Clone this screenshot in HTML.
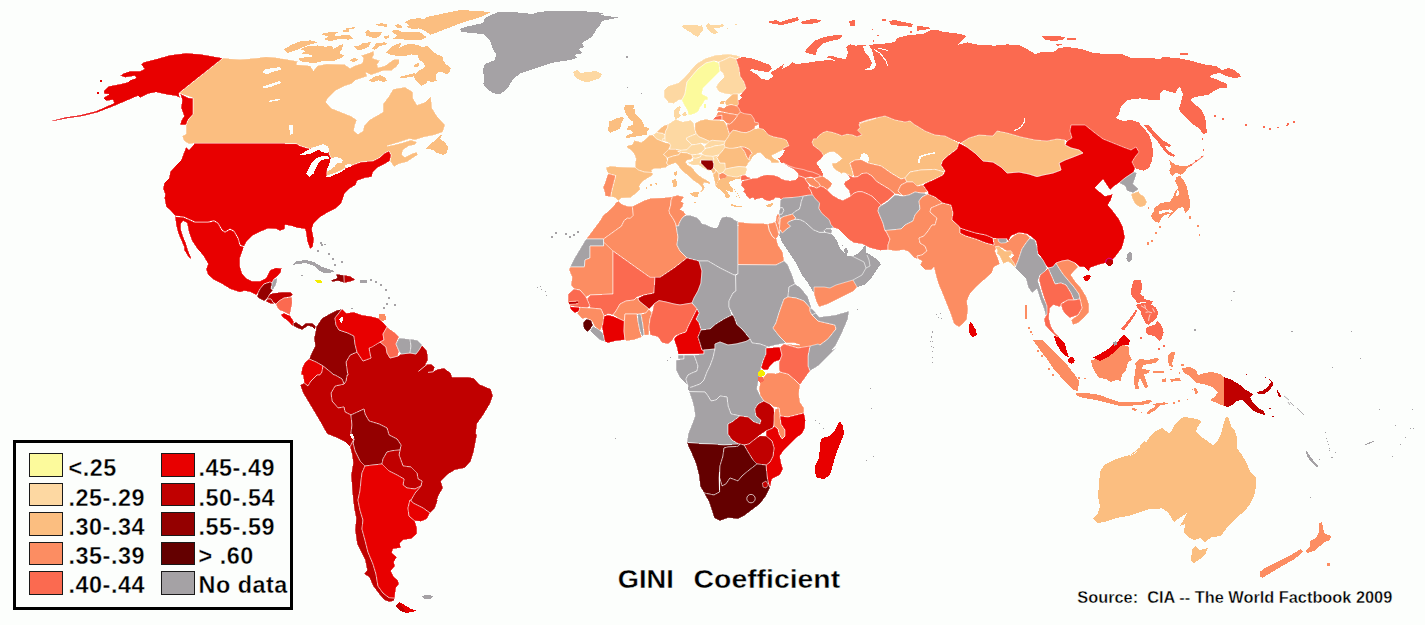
<!DOCTYPE html>
<html><head><meta charset="utf-8"><title>GINI Coefficient</title>
<style>
html,body{margin:0;padding:0;background:#FCFEFC}
body{width:1425px;height:625px;overflow:hidden;font-family:"Liberation Sans",sans-serif}
svg{display:block}
text{font-family:"Liberation Sans",sans-serif;font-weight:bold;fill:#000;stroke:#FCFEFC;stroke-width:.35px}
.lg{font-size:23.4px;letter-spacing:.5px}
.ti{font-size:25px}
.src{font-size:16px}
</style></head><body>
<svg width="1425" height="625" viewBox="0 0 1425 625" shape-rendering="crispEdges">
<rect width="1425" height="625" fill="#FCFEFC"/>
<g stroke-linejoin="round">
<polygon points="223,58 240,59.4 256,58 266,56.6 285,58.4 280,58.09 287.58,59.35 297.7,61.25 296.43,64.41 310.34,65.68 313.5,70.73 317.29,65.68 326.77,63.78 344.47,64.41 350.16,68.2 354.58,65.68 362.16,63.15 363.43,58.09 360.9,55.56 373.54,51.14 374.17,54.3 372.28,58.09 379.86,60.62 377.33,64.41 377.96,67.57 384.92,65.68 393.77,59.35 399.45,59.35 399.45,63.15 396.29,66.94 391.24,70.73 383.65,70.73 371.01,75.16 365.96,72.63 367.22,76.42 355.84,80.21 351.42,84 345,86 335,91 328,98 326,102 331,108 341,112 351,116 357,120 355,125 354,131 358,134 363,131 364,125 365,125 369,120 383,112 383,104 389,96 393,89 405,87 413,92 413,98 417,105 425,102 431,96 432,108 437,116 445,125 445,125 443,132 435,135 425,137 415,140 409,139 397,143 387,146 393,145 401,143 411,140 417,142 415,145 409,146 403,150 402,155 405,157 413,153 417,152 418,155 413,158 407,162 399,164 394,167 392,164 390,161 391,155 389,151 385,153 379,158 373,161 361,162 353.53,164.77 349.5,166.08 345.47,168.09 341.43,170.51 333.37,174.34 326.82,175.85 326.52,173.33 327.33,169.81 329.34,166.28 333.37,163.26 335.39,160.23 331.36,158.72 329.34,154.69 328.33,150.16 323.29,146.12 315.23,147.64 309.19,148.64 300.12,145.92 296.09,143.6 285,143.6 194,143.4 189,144 184,141 182,136 186,134 186,125 186,125 188,120 193,114 193,98 181,94 179,93" fill="#FBBE80" stroke="#fff" stroke-opacity=".75" stroke-width=".7"/>
<polygon points="262,72 266,69 280,67 281,69.6 274,71.6 266,74.4" fill="#FCFEFC"/>
<polygon points="262,87 270,84 280,81 281,83 272,86.4 265,88.4" fill="#FCFEFC"/>
<polygon points="268,101 280,98.6 280.4,100 269,102" fill="#FCFEFC"/>
<polygon points="289,125 293,125 292.6,134 290,135" fill="#FCFEFC"/>
<polygon points="283.79,49.24 292.64,44.19 301.49,41.03 310.34,40.39 317.92,42.29 309.07,44.82 302.75,47.35 295.17,50.51 287.58,53.03" fill="#FBBE80"/>
<polygon points="300.23,49.24 307.81,46.08 317.92,45.45 325.51,46.71 331.83,45.45 333.09,49.24 339.41,45.45 343.2,44.19 341.94,49.24 339.41,53.03 344.47,55.56 340.68,58.09 334.35,60.62 324.24,60.62 316.66,62.51 309.07,62.51 300.23,61.25 298.33,58.09 311.6,56.83 312.87,54.93 301.49,53.67 305.28,51.14" fill="#FBBE80"/>
<polygon points="320.45,34.07 329.3,32.18 338.78,32.18 334.35,34.71 336.88,36.6 343.2,34.71 348.89,34.71 353.32,38.5 348.26,39.76 340.68,38.5 334.35,40.39 329.3,41.03 324.24,39.13 328.03,36.6" fill="#FBBE80"/>
<polygon points="345.73,28.39 354.58,27.12 354.58,28.39 348.89,29.65 345.73,29.65" fill="#FBBE80"/>
<polygon points="343.2,30.28 349.52,30.28 348.89,31.55 343.2,31.55" fill="#FBBE80"/>
<polygon points="365.32,32.18 367.85,29.65 371.01,32.18 377.33,31.55 382.39,32.18 379.86,35.97 374.8,38.5 369.75,36.6 365.96,35.34" fill="#FBBE80"/>
<polygon points="375.44,24.59 381.13,23.33 387.45,23.96 387.45,27.12 383.65,26.49 378.6,25.86" fill="#FBBE80"/>
<polygon points="383.65,36.6 388.71,35.34 389.34,37.87 384.92,38.88" fill="#FBBE80"/>
<polygon points="353.32,46.08 358.37,46.08 363.43,42.92 371.01,42.29 368.48,46.71 363.43,49.24 358.37,50.51" fill="#FBBE80"/>
<polygon points="372.28,48.61 376.07,43.55 384.92,42.29 387.45,44.19 379.86,46.08 374.8,49.87" fill="#FBBE80"/>
<polygon points="349.52,59.99 354.58,58.09 358.37,59.35 353.32,62.51" fill="#FBBE80"/>
<polygon points="391.24,30.91 396.29,29.65 401.35,31.55 411.46,32.18 419.05,31.55 426.63,37.23 421.58,39.76 406.41,39.76 393.13,38.5 397.56,35.34 393.77,33.44" fill="#FBBE80"/>
<polygon points="394.4,25.23 398.19,23.96 401.35,25.86 402.61,28.39 397.56,28.39" fill="#FBBE80"/>
<polygon points="404.51,22.06 411.46,18.9 419.05,18.27 424.1,18.9 426.63,17.01 439.27,14.48 449.38,12.58 460,10.69 467.08,10.06 467.08,13.85 460,22.7 450.65,25.86 439.27,30.28 430.42,34.71 424.1,30.28 419.05,28.39 412.73,29.02 406.41,27.12 408.93,25.23" fill="#FBBE80"/>
<polygon points="386.18,52.4 389.97,47.98 396.29,44.19 401.35,42.92 398.19,49.24 401.35,46.71 407.67,44.19 413.99,44.19 419.05,45.45 422.84,47.35 426.63,45.45 431.69,50.51 436.74,54.3 442.43,56.19 443.06,60.62 445.59,63.78 450.65,68.2 450.02,72 446.86,74.52 441.8,72 438.01,72 435.48,75.79 436.74,80.84 431.69,82.11 427.9,80.84 425.37,84 421.58,85.9 419.05,84 415.25,79.58 413.99,76.42 406.41,77.68 399.45,78.32 401.35,76.42 413.99,73.26 415.89,73.89 419.05,70.73 425.37,66.94 423.47,63.15 419.05,59.35 417.78,55.56 411.46,54.3 406.41,55.56 398.82,56.19 391.24,54.93" fill="#FBBE80"/>
<polygon points="413.36,65.68 417.15,63.15 419.68,63.78 417.78,66.94 414.62,67.57" fill="#FBBE80"/>
<polygon points="368.48,80.84 373.54,77.05 379.86,75.16 384.92,77.05 386.81,80.84 383.65,82.11 378.6,80.21 373.54,82.11" fill="#FBBE80"/>
<polygon points="461,10 491,12 483,16 471,20 461,23 451,27 443,30 433,34 427,32 429,26 425,22 429,17 445,13" fill="#FBBE80"/>
<polygon points="425,149 433,142 441,135 443,133 440,139 445,142 448,147 447,153 443,155 437,153 433,150 426,148.6" fill="#FBBE80"/>
<polygon points="223,58 200,54 186,53 170,55 158,58.4 144,62 141,64.4 144.4,69 140,71 130,71 124,73 120,75.6 125,77.6 135,76 136,78 130,80 128,82 120,84 109,86 103.6,91 104,94 109,94.4 103,98 106,101 113,100 114,103 96,111 80,115 66,117 52,120.6 53,121.4 68,118.4 82,116.4 98,112.4 112,107 124,102 138,96 140,98 148,94 156,92.4 168,95 176,96 180,98 179,93" fill="#E80000" stroke="#fff" stroke-opacity=".75" stroke-width=".7"/>
<polygon points="180,93.6 188,97.6 193,98.4 193,114 188,120 186,125 180,125 181,121 184,116 181,108 182,100" fill="#E80000" stroke="#fff" stroke-opacity=".75" stroke-width=".7"/>
<rect x="100.2" y="80.2" width="1.6" height="1.6" fill="#E80000"/>
<rect x="97.2" y="92.2" width="1.6" height="1.6" fill="#E80000"/>
<polygon points="194,144 189,150 186,147 181,160 176,165 170,172 169,178 164,183 163,189 165,194 164.4,198 166,207 170,210 175,216 184,217 195,222 208,222 214,220.6 218,223 222,230 225,232 230,229 234,231 238,238 240,245 244,246.6 247,241 252,236 260,232 268,228.6 276,229 280,231 285,229 285,225 291,226 297,228 305,229 306,233 307,241 310,249 313,247 314,239 312,229 314,223 319,218 327,213 335,209 341,204 343,199 345,193 349,189 356,185 357,181 365,178 372,177 373,172 377,168 383,165 390,161 391,155 389,151 385,153 379,158 373,161 361,162 353.53,164.77 349.5,166.08 345.47,168.09 341.43,170.51 333.37,174.34 326.82,175.85 326.52,173.33 327.33,169.81 329.34,166.28 333.37,163.26 335.39,160.23 331.36,158.72 329.34,154.69 328.33,150.16 323.29,146.12 315.23,147.64 309.19,148.64 300.12,145.92 296.09,143.6 285,143.6 285,143.4 194,143.4" fill="#E80000" stroke="#fff" stroke-opacity=".75" stroke-width=".7"/>
<polygon points="300.12,154.69 305.16,151.67 311.2,148.14 318.26,145.62 323.29,144.11 327.33,146.12 329.34,149.15 329.34,152.17 325.31,153.18 321.28,151.67 318.26,149.65 315.23,151.67 310.19,153.68 305.16,154.69" fill="#FCFEFC"/>
<polygon points="306.16,173.33 309.19,167.29 312.21,162.25 315.23,158.72 319.26,156.71 324.3,156 328.33,156.4 329.34,158.72 325.31,159.23 321.28,160.23 318.26,163.26 315.74,168.29 313.72,173.33 309.69,176.86" fill="#FCFEFC"/>
<polygon points="329.85,159.23 332.36,157.71 336.4,157.01 340.43,158.02 342.64,160.23 341.94,162.75 339.92,163.76 337.91,162.45 336.4,164.26 334.38,166.78 332.36,168.29 330.35,169.81 327.83,171.82 326.32,170.31 327.83,167.29 329.34,164.26 329.85,161.74" fill="#FCFEFC"/>
<polygon points="326.32,176.56 329.34,174.85 333.37,173.33 337.4,171.82 341.43,170.31 344.46,168.29 345.47,168.8 342.44,171.32 338.41,173.33 333.37,175.35 329.34,177.16" fill="#FCFEFC"/>
<polygon points="344.46,164.77 349.5,164.26 353.53,164.77 350.5,166.78 346.47,167.79 345.47,166.78" fill="#FCFEFC"/>
<polygon points="175,216.4 184,217.4 195,222.4 208,222.4 214,221 218,223.4 222,230.4 225,232.4 230,229.4 234,231.4 238,238.4 240,245.4 244,247 243,250 240,258 240,266 242,273 246,278 252,281 260,281 266,278 270,270 276,267.6 281.6,268.4 281,272 278,276 274,279 272,283 270,282 264,284 260,289 258,293 256,295 250,292 244,291 240,292.4 230,289 222,284 214,280 208,275 206,269 208,264 204,257 201,253 198,250 192,241 189,233 187,223 183,221 181,224 181,229 183,236 186,243 188,250 191,257 191.6,259 189,258 184,250 184,247 181,240 178,233 176,225" fill="#E80000" stroke="#fff" stroke-opacity=".75" stroke-width=".7"/>
<polygon points="272,283 274,279 277.6,278 276.4,284 273,290 271,289" fill="#A5A2A5" stroke="#fff" stroke-opacity=".75" stroke-width=".7"/>
<polygon points="258,293 260,289 264,284 270,282 272,283 271,289 273,290 270,294 267,299 264,301 260,299 257,297" fill="#940000" stroke="#fff" stroke-opacity=".75" stroke-width=".7"/>
<polygon points="270,294 273,293 282,292 291,292 293,295 290,297 284,298 279,301 276,304 273,302.4 271,299 267,299" fill="#C00000" stroke="#fff" stroke-opacity=".75" stroke-width=".7"/>
<polygon points="267,299 271,299 273,302.4 275,304 270,303.6 266,301.6" fill="#C00000" stroke="#fff" stroke-opacity=".75" stroke-width=".7"/>
<polygon points="276,304 279,301 284,298 292,297 292.4,303 291,310 290,315 284,312 279,310 277,307" fill="#FB6A50" stroke="#fff" stroke-opacity=".75" stroke-width=".7"/>
<polygon points="281,314.4 284,313 290,315.6 293,320 295,324 292,326 289,322 285,319 282,317" fill="#E80000" stroke="#fff" stroke-opacity=".75" stroke-width=".7"/>
<polygon points="293,323 296,322 302,326 306,323 312,323 316,326 315,330 312,327 308,326 305,328 302,330 297,328 293.6,326" fill="#940000" stroke="#fff" stroke-opacity=".75" stroke-width=".7"/>
<polygon points="292,265 297,261 306,260 314,262 322,267 332,270 334,272 326,273.6 320,271 314,266 306,263 298,264" fill="#A5A2A5"/>
<polygon points="315,280.4 321,280 323,282.4 317,283" fill="#F4EC00"/>
<polygon points="331,280 337,278 336,274 344,275 344.4,283 338,281 332,282" fill="#940000" stroke="#fff" stroke-opacity=".75" stroke-width=".7"/>
<polygon points="344,275 350,276 355.6,279.6 351,281.6 344.4,283" fill="#C00000" stroke="#fff" stroke-opacity=".75" stroke-width=".7"/>
<polygon points="360,280.4 367,280.4 367,282.6 360.4,282.6" fill="#A5A2A5"/>
<rect x="317.4" y="250.4" width="1.1" height="1.1" fill="#A5A2A5"/>
<rect x="328.4" y="253.4" width="1.1" height="1.1" fill="#A5A2A5"/>
<rect x="332.4" y="258.4" width="1.1" height="1.1" fill="#A5A2A5"/>
<rect x="334.4" y="264.4" width="1.1" height="1.1" fill="#A5A2A5"/>
<rect x="341.4" y="261.4" width="1.1" height="1.1" fill="#A5A2A5"/>
<rect x="370.4" y="279.4" width="1.1" height="1.1" fill="#A5A2A5"/>
<rect x="375.4" y="281.4" width="1.1" height="1.1" fill="#A5A2A5"/>
<rect x="380.4" y="284.4" width="1.1" height="1.1" fill="#A5A2A5"/>
<rect x="385.4" y="289.4" width="1.1" height="1.1" fill="#A5A2A5"/>
<rect x="388.4" y="297.4" width="1.1" height="1.1" fill="#A5A2A5"/>
<rect x="386.4" y="303.4" width="1.1" height="1.1" fill="#A5A2A5"/>
<rect x="394.4" y="304.4" width="1.1" height="1.1" fill="#A5A2A5"/>
<rect x="383.4" y="307.4" width="1.1" height="1.1" fill="#A5A2A5"/>
<rect x="301.4" y="275.0" width="1.1" height="1.1" fill="#A5A2A5"/>
<rect x="351.4" y="307.8" width="1.1" height="1.1" fill="#A5A2A5"/>
<rect x="321.4" y="244.4" width="1.1" height="1.1" fill="#A5A2A5"/>
<rect x="320.4" y="242.4" width="1.1" height="1.1" fill="#A5A2A5"/>
<rect x="324.4" y="244.0" width="1.1" height="1.1" fill="#A5A2A5"/>
<polygon points="379,314 385,314 386.4,319 383,321.6 379,319" fill="#FC8D62"/>
<polygon points="348,375 347,370 346,362 350,355 357,352 359,355 363,361 371,358 370,354 369,348 380,342 386,347 387,353 390,358 398,356 401,354 410,353 416,354 419,350 422,345 427,351 427.6,354 428,360 425.6,364.4 431,364 435,367 433.6,371 438,369 444,368 451,373 452,377 468,377 474,378 479,384 491,389 493,396 490,404 484,414 477,424 476,434 477,435 474,451 471,461 465,468 455,470 447,475 441,481 443,488 439,495 437,500 438,500 435,508 430,513 423,508 413,503 411,500 415,493 421,486 422,481 418,479 417,473 411,467 403,466 399,455 400,450 401,445 397,439 389,435 387,428 379,424 369,421 365,414 364,409 351,415 345,412 344,407 338,408 332,401 331,393 335,386 344,384 346,381 347,375" fill="#C00000" stroke="#fff" stroke-opacity=".75" stroke-width=".7"/>
<polygon points="316,327 322,318 330,313.6 337,310 342,309 339,313 335,318 336,325 339,330 348,333 354,336 355,344 357,352 350,355 346,362 347,370 348,375 347,375 346,381 344,384 342,379 335,375 334,375 328,370 323,366 316,362 309,359 312,352 315,346 314,338 315.6,331" fill="#940000" stroke="#fff" stroke-opacity=".75" stroke-width=".7"/>
<polygon points="342,309 346,313 354,312 362,315 370,316 378,318 384,323 387,327 383,334 384,340 380,342 372,347 369,348 370,354 371,358 363,361 359,355 357,352 355,344 354,336 348,333 339,330 336,325 335,318 339,313" fill="#E80000" stroke="#fff" stroke-opacity=".75" stroke-width=".7"/>
<polygon points="339,319 342,316 343.6,320 341,323.6" fill="#FCFEFC"/>
<polygon points="387,327 394,332 399,337 396,344 399,351 398,356 390,358 387,353 386,347 380,342 384,340 383,334" fill="#FB6A50" stroke="#fff" stroke-opacity=".75" stroke-width=".7"/>
<polygon points="399,338 410,339 411,346 410,353 401,354 399,351 396,344" fill="#A5A2A5" stroke="#fff" stroke-opacity=".75" stroke-width=".7"/>
<polygon points="410,339 417,340 422,345 419,350 416,354 410,353 411,346" fill="#A5A2A5" stroke="#fff" stroke-opacity=".75" stroke-width=".7"/>
<polygon points="309,359 316,362 323,366 322,372 320,375 317,375 311,381 308,386 304,383 303,375 301,375 302,368 305,362" fill="#E80000" stroke="#fff" stroke-opacity=".75" stroke-width=".7"/>
<polygon points="323,366 328,370 334,375 335,375 342,379 344,384 335,386 331,393 332,401 338,408 344,407 345,412 351,415 352,425 351,433 354,439 350,447 345,442 337,438 327,434 322,425 315,413 309,403 303,393 300,385 304,383 308,386 311,381 317,375 320,375 322,372" fill="#C00000" stroke="#fff" stroke-opacity=".75" stroke-width=".7"/>
<polygon points="351,415 364,409 365,414 369,421 379,424 387,428 389,435 397,439 401,445 400,450 393,450.6 387,452 383,459 382,464 373,465 365,466 360,461 355,451 353,443 354,439 351,433 352,425" fill="#940000" stroke="#fff" stroke-opacity=".75" stroke-width=".7"/>
<polygon points="349.4,434 352,433.4 354,437.4 352,439" fill="#FCFEFC"/>
<polygon points="383,459 387,452 393,450.6 400,450 399,455 403,466 411,467 417,473 418,479 422,481 421,486 415,489 407,488 403,485 404,479 397,475 389,471 382,464" fill="#C00000" stroke="#fff" stroke-opacity=".75" stroke-width=".7"/>
<polygon points="350,447 354,439 353,443 355,451 360,461 365,466 362,473 361,481 360,491 358,500 360,510 363,520 362,529 365,540 368,552 373,564 376,574 378,586 383,593 389,597.6 395,598 394,601 389,602 384,600 379,594 373,586 369,577 364,574 367,570 365,560 361,552 357,544 355,530 356,518 354,508 353,500 352,489 351,475 353,463 352,455" fill="#C00000" stroke="#fff" stroke-opacity=".75" stroke-width=".7"/>
<polygon points="365,466 373,465 382,464 389,471 397,475 404,479 403,485 407,488 415,489 421,486 415,493 411,500 410,500 408,508 409,516 415,521 417,528 417,534 411,539 403,540 400,543 401,548 393,549 392,553 397,557 394,562 395,566 391,571 394,577 398,580 399,584 396,588 395,596 395,598 389,597.6 383,593 378,586 376,574 373,564 368,552 365,540 362,529 363,520 360,510 358,500 360,491 361,481 362,473" fill="#E80000" stroke="#fff" stroke-opacity=".75" stroke-width=".7"/>
<polygon points="410,500 413,503 423,508 430,513 427,519 421,521.6 415,521 409,516 408,508" fill="#E80000" stroke="#fff" stroke-opacity=".75" stroke-width=".7"/>
<polygon points="395,606 399,602 404,609 406,613 400,611" fill="#C00000"/>
<polygon points="399,602 403,604 411,609 417,611 406,613 404,609" fill="#E80000"/>
<polygon points="422,596.4 427,594.4 433.4,596 431,598.4 428,599.6 424,598.4" fill="#A5A2A5"/>
<polyline points="418.4,371.4 427,364.4" fill="none" stroke="#FCFEFC" stroke-width="0.8"/>
<polyline points="428,372.4 433.2,371.8 435.6,369.2" fill="none" stroke="#FCFEFC" stroke-width="0.8"/>
<polygon points="460,29 465,27 483,23 485,18 497,12.4 513,12 533,14 539,11.6 570,11 590,11.6 604,13 600,15 619,17.6 610,19.4 602,21 600,25 596,30 592,37 582,43 584,47 578,49 583,53 574,55 577,58 570,60 551,63 537,68 521,73 513,79 509,86 505,91 499,94.4 493,93 487,89 483.4,84 484,78 483,70 485,64 495,60 496,54 493,49 490,40 483,34 471,33 461,31.6" fill="#A5A2A5"/>
<polygon points="485,58 489,56 495,57 491,60" fill="#FCFEFC"/>
<polygon points="739,96 742,93 746,88 744,82 740,76 739,68 736,59 742,57 750,58 762,62 770,65 772,69 768,72 760,71 752,69 749,70 756,74 762,79 768,80 774,76 770,73 778,68 784,64 782,69 788,66 792,62 796,64 806,63 818,61 830,60 836,61 830,58 824,57 832,56 838,58 846,59 848,52 846,47 850,44.4 855,45 855,45.6 881,44 895,42 897,38 909,35 923,34 931,30 937,29.6 943,32 955,33 964,35 966,37 961,41 957,45 967,42.4 979,45 995,45.6 1007,44.4 1019,45 1027,49 1035,54 1043,51.6 1053,52.4 1059,48 1067,47 1081,49 1093,53 1107,54 1123,54.4 1131,58 1140,58.4 1152,58 1160,59.6 1162,57 1178,58 1192,61 1204,64.4 1216,66 1222,70 1228,68 1234,70 1240,74.4 1241,77 1234,78 1226,76 1220,73 1214,74 1209,77 1218,80 1227,84 1227,87.6 1220,88 1214,91 1208,95 1200,96 1192,98 1191,101 1197,106 1202,111 1205,117 1206,122 1206,125 1207,133 1203,134 1200,129 1194,125 1188,120 1182,114 1179,109 1181,102 1183,94 1180,87 1177,89 1176,93 1170,92 1164,89.6 1160,93 1160,100 1152,100 1140,98.4 1127,100 1121,106 1119,114 1116,118 1123,121 1131,120 1140,123 1140,125 1144,128 1149,135 1152,143 1153,153 1152,161 1149,168 1144,170.6 1140,170 1135,168 1132,162 1135,157 1139,152 1136,147 1131,150 1123,147 1113,143 1103,139 1095,133 1085,125 1071,125 1070,131 1072,138 1067,141 1065,140 1057,139 1047,141 1035,140 1021,137 1007,133 997,131 993,136 979,135 969,138 961,143 951,139 945,136 935,135 925,131 917,126 915,125 910,121 905,122 895,120 885,116 867,120 859,123 876,118.14 870.06,120.16 864.01,121.67 858.97,124.19 859.98,127.71 857.46,130.23 859.47,132.25 861.99,134.77 856.95,136.78 851.92,134.77 846.88,134.26 841.84,135.78 836.8,133.76 831.76,132.25 826.72,131.24 822.69,132.75 818.66,135.78 816.64,138.8 813.62,138.8 812.11,142.33 813.62,145.85 818.66,149.38 821.68,152.4 823.7,155.93 820.68,159.46 816.64,162.98 817.65,165.02 819.67,168.04 822.69,173.08 822.69,176.1 818.66,177.11 820.68,176.1 818.66,174.59 812.61,172.07 807.57,171.06 803.54,169.55 795.48,168.04 789.43,166.02 783.39,163 781.37,162.98 780.36,161.47 778.35,158.45 781.37,156.43 784.4,151.4 785.4,149.38 782.88,150.39 783.39,148.37 786.41,146.86 788.93,145.85 788.43,144.34 786.41,140.31 783.39,138.8 778.35,137.79 773.31,136.78 768.27,134.77 766.26,132.25 763.23,129.23 759.2,128.22 758.7,124.69 758.19,122.67 754.67,122.17 754.16,119.15 751.14,114.61 744.09,113.6 740.56,112.09 739.05,108.57 737.03,106.05 738.54,104.03 738.04,100 740,100 742,97" fill="#FB6A50"/>
<polygon points="863,46 869,45 872,50 874,58 876,65 874,69 869,70.4 865,69.6 870,67.4 872,63 869,57 865,52" fill="#FCFEFC"/>
<polyline points="874,49.6 880,53 883,57 886,61 887.6,65.6" fill="none" stroke="#FCFEFC" stroke-width="1.0"/>
<polyline points="878,48 884,49.6 888,50.4" fill="none" stroke="#FCFEFC" stroke-width="1.0"/>
<polyline points="1025,117.6 1024.4,122 1021,127 1017,129.6 1013.6,130.4" fill="none" stroke="#FCFEFC" stroke-width="1.2"/>
<polygon points="805,52 808,47 814,41 824,37 836,35 843,35.6 840,39 830,41 822,44 817,49 816,55 810,54" fill="#FB6A50"/>
<polygon points="767,22 776,20 780,22 790,19 798,17 799,20 794,22 782,25 774,24" fill="#FB6A50"/>
<polygon points="800,22 812,19 821,20 820,22 810,24 802,23.6" fill="#FB6A50"/>
<polygon points="849,21 855,20 855,26 850,25.6" fill="#FB6A50"/>
<polygon points="889,21 895,20 903,22 913,24 912,27 903,26 891,25" fill="#FB6A50"/>
<polygon points="917,26 929,27 930,29 921,30 917,31" fill="#FB6A50"/>
<polygon points="882,19.4 886,19.4 886,21 882,21" fill="#FB6A50"/>
<polygon points="1041,36 1053,35.6 1065,37 1063,40 1053,41 1045,39.6" fill="#FB6A50"/>
<polygon points="1067,37.6 1076,37.6 1076,40 1067,39.6" fill="#FB6A50"/>
<polygon points="1055,43.6 1062,44.4 1057,46" fill="#FB6A50"/>
<polygon points="1179.6,53 1188,53 1188.4,55 1180,55" fill="#FB6A50"/>
<polygon points="1144,125 1149,125 1156,134 1164,141 1171,145 1170,147 1165,146 1168,151 1175,155 1174,157 1168,155 1163,149 1158,142 1152,135 1147,129" fill="#FB6A50"/>
<rect x="1201.8" y="138.4" width="1.3" height="1.3" fill="#FB6A50"/>
<rect x="1203.0" y="149.4" width="1.3" height="1.3" fill="#FB6A50"/>
<rect x="1201.4" y="156.0" width="1.3" height="1.3" fill="#FB6A50"/>
<rect x="1195.4" y="160.4" width="1.3" height="1.3" fill="#FB6A50"/>
<rect x="1190.4" y="164.4" width="1.3" height="1.3" fill="#FB6A50"/>
<rect x="1245.4" y="124.8" width="1.3" height="1.3" fill="#FB6A50"/>
<rect x="1263.4" y="126.4" width="1.3" height="1.3" fill="#FB6A50"/>
<rect x="1269.4" y="128.4" width="1.3" height="1.3" fill="#FB6A50"/>
<rect x="1277.4" y="126.8" width="1.3" height="1.3" fill="#FB6A50"/>
<rect x="1286.4" y="125.0" width="1.3" height="1.3" fill="#FB6A50"/>
<rect x="1214.4" y="115.4" width="1.3" height="1.3" fill="#FB6A50"/>
<rect x="1222.4" y="118.4" width="1.3" height="1.3" fill="#FB6A50"/>
<rect x="1245.4" y="123.8" width="1.3" height="1.3" fill="#FB6A50"/>
<rect x="1287.4" y="123.4" width="1.3" height="1.3" fill="#FB6A50"/>
<rect x="1293.4" y="121.4" width="1.3" height="1.3" fill="#FB6A50"/>
<rect x="872.0" y="29.0" width="1.3" height="1.3" fill="#FB6A50"/>
<rect x="877.4" y="35.0" width="1.3" height="1.3" fill="#FB6A50"/>
<rect x="910.4" y="31.4" width="1.3" height="1.3" fill="#FB6A50"/>
<rect x="872.8" y="40.4" width="1.3" height="1.3" fill="#FB6A50"/>
<polygon points="712.44,119.65 715.97,116.12 722.02,115.12 722.02,119.65" fill="#FB6A50" stroke="#fff" stroke-opacity=".75" stroke-width=".7"/>
<polygon points="681,25.6 694,25 701,26 702,24 703,30 698,37 694,35 690,32 685,29" fill="#FDD8A2"/>
<polygon points="706,25 708,23 710,25 723,24.4 724,26 718,28 713,28 718,33 714,34 710,32 707,28" fill="#FDD8A2"/>
<rect x="735.4" y="23.8" width="1.1" height="1.1" fill="#FDD8A2"/>
<rect x="727.0" y="27.8" width="1.1" height="1.1" fill="#FDD8A2"/>
<polygon points="573,72 577,70 580,73 588,72 596,71 602,74 600,78 592,81 586,82.4 580,80 575,77" fill="#FDD8A2"/>
<rect x="626.3" y="56.3" width="1.4" height="1.4" fill="#A5A2A5"/>
<rect x="626.9" y="86.9" width="1.4" height="1.4" fill="#A5A2A5"/>
<rect x="640.9" y="92.9" width="1.4" height="1.4" fill="#A5A2A5"/>
<polygon points="664,90 668,86 678,83 684,78 690,71 696,64 706,58 716,55 728,54 736,55 741,57 736,59 730,57 724,60 719,62 714,61 706,63 698,69 692,76 687,82 686,88 685,94 683,98 681.71,100 678.68,100 677.68,101.01 673.64,103.53 668.61,103.02 665.08,100 668,102 664,97" fill="#FDD8A2" stroke="#fff" stroke-opacity=".75" stroke-width=".7"/>
<polygon points="687,82 692,76 698,69 706,63 714,61 719,63 720,71 714,77 708,83 703,88 702,94 708,97 707.6,100 704.88,100 702.87,104.03 699.85,107.56 698.84,111.09 694.81,113.6 690.78,115.12 688.26,114.61 687.25,110.08 684.73,106.05 683.22,103.02 681.71,100 683,98 685,94 686,88" fill="#FCFA9C" stroke="#fff" stroke-opacity=".75" stroke-width=".7"/>
<polygon points="704.38,104.53 706.4,104.03 705.89,107.56 704.38,108.57" fill="#FCFA9C"/>
<polygon points="719,62 724,60 730,57 736,59 739,68 740,76 744,82 746,88 742,93 734,95 726,94 719,92 716,87 719,82 724,77 723,73 720,71" fill="#FDD8A2" stroke="#fff" stroke-opacity=".75" stroke-width=".7"/>
<polygon points="608.14,130.23 609.15,121.67 616.71,118.14 622.25,117.13 623.76,118.64 621.24,123.18 620.23,128.72 615.19,130.74 610.16,132.75" fill="#FBBE80"/>
<polygon points="624.26,107.56 625.78,105.04 633.33,105.04 634.34,106.55 632.33,109.07 635.85,109.57 634.34,113.1 638.37,117.13 641.4,120.16 643.41,124.19 644.42,127.21 648.45,127.71 648.95,129.73 646.43,132.25 647.44,134.77 640.39,135.78 634.34,136.78 628.29,137.79 624.26,137.29 629.3,134.26 633.33,133.26 630.31,130.23 626.28,130.23 628.29,126.2 632.33,125.19 633.33,122.17 630.31,119.65 628.29,117.64 626.28,114.11 624.77,112.09" fill="#FBBE80"/>
<polygon points="626.28,145.85 632.33,144.34 634.34,140.31 638.37,141.32 641.4,142.33 646.43,138.29 649.46,135.27 652.48,134.77 656.51,138.8 662.56,141.32 664.57,142.33 669.61,143.33 670.62,145.35 668.61,149.38 663.57,154.42 666.59,156.94 667.6,160.47 666.59,162.98 666.59,163 668.61,165.52 665.58,167.53 660.54,168.54 654.5,168.54 651.47,170.05 652.48,172.57 644.42,172.07 638.37,170.05 635.35,167.53 635.35,163 635.85,158.45 634.34,154.42 631.32,150.39 627.29,147.87" fill="#FBBE80" stroke="#fff" stroke-opacity=".75" stroke-width=".7"/>
<polygon points="652.98,134.77 656.51,132.25 662.56,133.26 665.08,134.77 664.57,138.29 662.56,141.32 656.51,138.8" fill="#FDD8A2" stroke="#fff" stroke-opacity=".75" stroke-width=".7"/>
<polygon points="656.51,132.25 659.54,129.23 663.57,125.7 668.1,124.19 667.6,127.71 665.58,131.24 665.08,134.77 662.56,133.26" fill="#FBBE80" stroke="#fff" stroke-opacity=".75" stroke-width=".7"/>
<polygon points="662.56,138.8 665.08,138.29 665.58,141.32 663.06,141.52" fill="#FDD8A2" stroke="#fff" stroke-opacity=".75" stroke-width=".7"/>
<polygon points="668.1,124.19 675.66,119.15 682.71,121.67 690.78,120.16 693.8,123.18 694.81,129.23 696.32,133.76 692.79,135.27 686.74,137.79 686.74,139.81 690.78,143.33 691.78,144.85 689.26,147.36 686.74,149.88 680.7,150.39 675.66,149.38 669.61,149.38 670.62,145.35 669.61,143.33 665.08,141.32 665.08,134.77 665.58,131.24 667.6,127.71" fill="#FDD8A2" stroke="#fff" stroke-opacity=".75" stroke-width=".7"/>
<polygon points="673.64,111.09 676.67,108.06 679.69,106.05 680.7,107.05 679.69,110.08 678.68,113.1 680.7,115.62 678.68,117.64 675.66,119.15 674.15,116.12" fill="#FDD8A2"/>
<polygon points="683.22,112.6 686.24,112.09 686.74,115.12 683.72,116.63 682.21,115.12" fill="#FDD8A2"/>
<polygon points="694.81,123.18 700.85,120.16 705.89,119.15 712.44,120.16 724.03,120.66 727.06,126.2 729.57,134.26 728.06,137.29 725.04,141.32 716.98,140.81 712.44,140.31 709.42,141.32 703.88,138.8 698.84,136.78 696.32,133.76 694.81,129.23" fill="#FBBE80" stroke="#fff" stroke-opacity=".75" stroke-width=".7"/>
<polygon points="733,93.95 738.04,93.95 738.04,100 738.54,104.03 737.03,106.05 733,106.05 733,105.04 731.09,104.53 726.05,106.05 725.04,102.02 726.05,100" fill="#FBBE80" stroke="#fff" stroke-opacity=".75" stroke-width=".7"/>
<polygon points="719.5,103.02 722.02,101.01 725.04,100.5 724.03,104.03 721.01,104.53" fill="#FBBE80"/>
<polygon points="716.47,111.09 718.99,106.55 724.03,108.06 726.05,106.05 731.09,104.53 733,105.04 737.03,106.05 739.05,108.57 740.56,112.09 737.53,115.12 733,114.11 729.07,113.6 725.04,112.6 718.99,111.09" fill="#FC8D62" stroke="#fff" stroke-opacity=".75" stroke-width=".7"/>
<polygon points="717.99,111.59 725.04,112.6 729.07,113.6 733,114.11 737.53,115.12 737.03,116.63 733,121.67 729.57,124.19 727.06,123.68 724.03,120.66 722.02,119.65 722.02,115.12 715.97,116.12" fill="#FC8D62" stroke="#fff" stroke-opacity=".75" stroke-width=".7"/>
<polygon points="737.53,115.12 740.56,112.09 744.09,113.6 751.14,114.61 754.16,119.15 754.67,122.17 758.19,122.67 758.7,124.69 755.17,126.2 754.67,128.72 750.13,131.24 746.1,132.75 741.06,132.25 736.02,130.74 733,130.23 729.57,134.26 727.06,126.2 727.06,123.68 729.57,124.19 733,121.67 737.03,116.63" fill="#FC8D62" stroke="#fff" stroke-opacity=".75" stroke-width=".7"/>
<polygon points="733,130.23 736.02,130.74 741.06,132.25 746.1,132.75 750.13,131.24 754.67,128.72 759.2,128.22 763.23,129.23 766.26,132.25 768.27,134.77 773.31,136.78 778.35,137.79 783.39,138.8 786.41,140.31 788.43,144.34 788.93,145.85 786.41,146.86 783.39,148.37 782.38,150.39 778.85,151.9 775.33,153.92 771.8,155.43 773.31,157.95 776.33,159.46 778.35,160.47 779.36,162.98 771.29,162.98 770.29,160.47 767.26,158.95 765.25,158.45 762.73,154.92 760.21,152.91 757.19,153.41 753.16,156.43 750.64,160.47 748.62,159.46 750.13,154.92 752.15,153.41 749.12,149.38 745.09,147.36 740.56,146.86 736.02,147.87 733,148.37 729.07,148.37 725.04,147.36 724.03,144.34 725.04,141.32 728.06,137.29 729.57,134.26" fill="#FBBE80" stroke="#fff" stroke-opacity=".75" stroke-width=".7"/>
<polygon points="686.74,137.79 692.79,135.27 696.32,133.76 698.84,136.78 703.88,138.8 709.42,141.32 706.9,143.84 700.85,143.33 696.82,144.34 691.78,144.85 690.78,143.33 686.74,139.81" fill="#FDD8A2" stroke="#fff" stroke-opacity=".75" stroke-width=".7"/>
<polygon points="709.42,141.32 712.44,140.31 716.98,140.81 725.04,141.32 724.03,144.34 720,145.35 714.96,145.85 710.93,147.36 705.89,148.37 704.38,146.36 706.9,143.84" fill="#FDD8A2" stroke="#fff" stroke-opacity=".75" stroke-width=".7"/>
<polygon points="689.26,147.36 691.78,144.85 696.82,144.34 700.85,143.33 704.38,146.36 704.88,149.38 701.86,152.4 696.82,154.42 691.78,154.92 686.74,152.91 680.7,152.4 677.68,151.4 680.7,150.39 686.74,149.88" fill="#FDD8A2" stroke="#fff" stroke-opacity=".75" stroke-width=".7"/>
<polygon points="704.88,149.38 705.89,148.37 710.93,147.36 714.96,145.85 720,145.35 724.03,144.34 725.04,147.36 722.02,151.4 718.99,154.92 712.95,156.43 705.89,155.93 701.86,154.42 701.86,152.4" fill="#FDD8A2" stroke="#fff" stroke-opacity=".75" stroke-width=".7"/>
<polygon points="663.57,154.42 668.61,149.38 675.66,149.38 680.7,150.39 677.68,151.4 680.7,152.4 678.68,154.92 673.64,155.93 667.6,157.95 666.59,156.94" fill="#FBBE80" stroke="#fff" stroke-opacity=".75" stroke-width=".7"/>
<polygon points="691.78,154.92 696.82,154.42 701.86,154.42 700.35,156.94 695.81,158.45 692.79,157.95" fill="#FDD8A2" stroke="#fff" stroke-opacity=".75" stroke-width=".7"/>
<polygon points="667.6,160.47 667.6,157.95 673.64,155.93 678.68,154.92 680.7,152.4 686.74,152.91 691.78,154.92 692.79,157.95 690.78,159.46 686.74,160.47 685.74,162.98 686.74,163 687.75,165.02 690.78,166.53 693.8,169.55 695.81,172.57 698.84,175.09 702.87,178.12 706.9,180.13 710.43,182.65 710.43,184.67 708.41,183.66 703.88,182.65 703.37,184.67 704.88,187.19 703.88,189.71 701.86,192.23 700.35,191.72 701.86,189.2 701.36,186.68 698.84,184.16 694.81,181.64 690.78,178.12 686.74,174.59 682.71,171.57 679.69,168.04 677.68,165.02 675.66,163 668.61,165.52 666.59,163 666.59,162.98" fill="#FBBE80" stroke="#fff" stroke-opacity=".75" stroke-width=".7"/>
<polygon points="689.26,193.23 693.8,192.23 698.84,192.23 698.33,195.25 697.33,197.77 693.8,196.26 690.78,194.74" fill="#FBBE80"/>
<polygon points="693.8,202.1 695.81,202.1 695.81,203.11 693.8,203.11" fill="#FBBE80"/>
<polygon points="674.15,172.07 676.67,171.06 676.87,175.09 675.16,176.1 674.15,174.09" fill="#FBBE80"/>
<polygon points="672.13,180.13 675.66,179.12 676.87,181.64 676.47,186.68 673.64,187.69 672.64,184.16" fill="#FBBE80"/>
<polygon points="692.79,157.95 695.81,158.45 700.35,156.94 701.86,154.42 705.89,155.93 712.95,156.43 713.95,159.46 712.44,160.47 700.85,159.96 699.85,162.98 700.85,163 704.88,167.03 710.93,170.86 709.42,171.26 702.87,168.04 698.33,165.02 693.8,165.52 689.77,164.01 687.25,163 692.79,160.47" fill="#FDD8A2" stroke="#fff" stroke-opacity=".75" stroke-width=".7"/>
<polygon points="700.85,160.26 712.95,160.47 713.45,162.98 713.95,163 713.45,168.04 710.93,170.56 707.4,169.55 704.88,167.03 702.87,165.02 700.85,163" fill="#940000" stroke="#fff" stroke-opacity=".75" stroke-width=".7"/>
<polygon points="712.95,156.43 718.99,154.92 716.98,157.44 720,162.98 725.04,163 725.54,169.05 723.02,172.57 718.99,174.09 715.97,170.05 713.45,168.04 713.95,163 713.45,162.98 712.95,160.47 713.95,159.46" fill="#FDD8A2" stroke="#fff" stroke-opacity=".75" stroke-width=".7"/>
<polygon points="710.93,170.56 713.45,168.04 715.97,170.05 714.96,173.08 712.95,173.58" fill="#FBBE80" stroke="#fff" stroke-opacity=".75" stroke-width=".7"/>
<polygon points="712.95,173.58 714.96,173.08 715.97,170.05 718.99,174.09 718.99,180.13 716.98,184.16 715.47,185.67 714.46,181.14 713.45,177.11" fill="#FBBE80" stroke="#fff" stroke-opacity=".75" stroke-width=".7"/>
<polygon points="718.99,174.09 723.02,172.57 727.56,175.6 726.05,178.12 720,179.63 718.99,177.11" fill="#FC8D62" stroke="#fff" stroke-opacity=".75" stroke-width=".7"/>
<polygon points="715.47,185.67 716.98,184.16 718.99,180.13 720,179.63 726.05,178.12 727.56,175.6 733,175.09 733,176.6 737.03,177.11 741.06,175.6 740.56,179.12 733,179.63 733,181.14 730.08,180.64 729.07,183.16 731.09,187.19 733,188.19 733,192.23 729.07,191.22 726.05,190.21 730.08,196.26 729.07,198.27 726.05,197.77 724.03,193.23 721.01,190.21 717.99,188.19" fill="#FBBE80"/>
<polygon points="731.09,204.12 733,204.12 733,205.33 742.07,205.83 742.57,206.84 735.02,206.84 731.09,205.53" fill="#FBBE80"/>
<rect x="734.5" y="190.7" width="1.0" height="1.0" fill="#FBBE80"/>
<rect x="736.5" y="192.7" width="1.0" height="1.0" fill="#FBBE80"/>
<rect x="738.0" y="194.8" width="1.0" height="1.0" fill="#FBBE80"/>
<rect x="735.5" y="195.8" width="1.0" height="1.0" fill="#FBBE80"/>
<rect x="733.5" y="189.2" width="1.0" height="1.0" fill="#FBBE80"/>
<rect x="738.5" y="197.3" width="1.0" height="1.0" fill="#FBBE80"/>
<polygon points="725.04,147.36 729.07,148.37 733,148.37 736.02,147.87 740.56,146.86 743.08,149.38 745.09,152.4 746.6,156.43 748.62,159.46 750.64,160.47 748.12,162.98 748.12,163 747.11,166.02 745.09,167.03 739.05,166.53 733,167.53 725.54,169.05 725.04,163 720,162.98 716.98,157.44 718.99,154.92 722.02,151.4" fill="#FBBE80" stroke="#fff" stroke-opacity=".75" stroke-width=".7"/>
<polygon points="740.56,146.86 745.09,147.36 749.12,149.38 752.15,153.41 750.13,154.92 748.62,159.46 746.6,156.43 745.09,152.4 743.08,149.38" fill="#FC8D62" stroke="#fff" stroke-opacity=".75" stroke-width=".7"/>
<polygon points="733,167.53 739.05,166.53 745.09,167.03 747.11,169.05 746.1,173.08 745.09,175.09 741.06,175.6 737.03,177.11 733,176.6 727.56,175.6 723.02,172.57 725.54,169.05" fill="#FDD8A2" stroke="#fff" stroke-opacity=".75" stroke-width=".7"/>
<polygon points="606.12,167.53 610.16,166.02 622.25,167.03 635.35,167.53 638.37,170.05 644.42,172.07 652.48,172.57 652.98,175.09 646.43,179.12 642.4,181.64 639.38,186.18 640.39,189.2 636.36,193.23 632.33,196.26 630.31,197.77 621.24,198.27 618.22,200.79 615.19,197.77 610.66,196.76 611.67,191.22 613.68,183.16 615.7,175.6 608.14,173.58 606.63,170.56" fill="#FBBE80" stroke="#fff" stroke-opacity=".75" stroke-width=".7"/>
<polygon points="608.14,173.58 615.7,175.6 613.68,183.16 611.67,191.22 610.66,196.76 605.12,196.26 604.61,192.23 603.1,187.19 605.12,182.15 606.63,177.11" fill="#FC8D62" stroke="#fff" stroke-opacity=".75" stroke-width=".7"/>
<polygon points="649.46,184.67 652.48,183.96 651.98,185.67 649.96,186.68" fill="#FBBE80"/>
<polygon points="655,183.16 656.51,183.16 656.51,184.67 655,184.36" fill="#FBBE80"/>
<polygon points="645.93,187.19 646.94,187.19 646.94,188.7 645.93,188.7" fill="#FBBE80"/>
<polygon points="741.06,175.6 745.09,175.09 747.11,176.6 751.14,178.12 749.12,179.63 745.09,180.13 741.57,180.64 740.56,179.12" fill="#FB6A50" stroke="#fff" stroke-opacity=".75" stroke-width=".7"/>
<polygon points="741.57,181.14 746.1,180.13 751.14,178.62 757.19,178.12 762.23,175.6 767.26,174.59 773.31,175.09 778.35,176.6 781.37,178.62 785.4,180.13 790.44,180.64 795.48,179.63 797.5,177.61 798.5,175.6 803.54,177.11 805.56,179.12 808.08,183.16 809.59,186.18 808.58,187.69 810.6,190.21 812.61,195.25 807.57,195.25 803.54,196.26 797.5,197.77 791.45,197.77 785.4,198.27 781.37,199.78 779.36,198.27 775.33,197.77 773.31,199.78 769.28,201.29 765.25,200.29 762.23,198.27 758.19,198.78 754.67,200.29 753.16,197.77 749.12,199.28 748.12,197.26 746.1,196.26 745.09,193.23 742.57,191.22 744.59,189.71 742.57,187.19 741.06,185.67 741.57,183.16" fill="#FB6A50" stroke="#fff" stroke-opacity=".75" stroke-width=".7"/>
<polygon points="766.26,205.33 770.29,203.81 773.81,202.81 772.81,204.82 770.29,206.84 767.26,207.34" fill="#FBBE80"/>
<polygon points="783.39,163 789.43,166.02 795.48,168.04 803.54,169.55 807.57,171.06 812.61,172.07 818.66,174.59 820.68,176.1 818.66,177.11 814.63,178.12 810.6,177.11 805.56,178.12 803.54,177.11 798.5,175.6 797.5,173.08 793.47,169.05 787.42,166.02" fill="#FB6A50" stroke="#fff" stroke-opacity=".75" stroke-width=".7"/>
<polygon points="805.05,179.12 807.57,177.61 812.61,177.61 814.63,179.63 818.66,182.65 820.68,186.18 816.64,188.19 813.62,186.68 810.6,185.17 808.08,183.16" fill="#FC8D62" stroke="#fff" stroke-opacity=".75" stroke-width=".7"/>
<polygon points="814.63,178.12 818.66,177.11 822.69,176.1 825.71,178.12 828.74,180.13 832.26,183.16 831.26,186.18 828.74,188.19 827.73,190.21 823.7,187.19 820.68,186.18 818.66,182.65 814.63,179.63" fill="#FC8D62" stroke="#fff" stroke-opacity=".75" stroke-width=".7"/>
<polygon points="816.64,162.98 820.68,159.46 823.7,155.93 821.68,152.4 818.66,149.38 813.62,145.85 812.11,142.33 813.62,138.8 816.64,138.8 818.66,135.78 822.69,132.75 826.72,131.24 831.76,132.25 836.8,133.76 841.84,135.78 846.88,134.26 851.92,134.77 856.95,136.78 861.99,134.77 859.47,132.25 857.46,130.23 859.98,127.71 858.97,124.19 864.01,121.67 870.06,120.16 876,118.14 859,123 867,120 885,116 895,120 905,122 910,121 915,125 917,126 925,131 935,135 945,136 951,139 959,143 957,149 949,155 943,160 941,165 945,171 944,172 935,169.4 921,170 910,172 905,178 901,179 891,173 881,166 868,163 860.99,159.46 854.94,160.16 849.9,163 851.92,169.05 853.43,175.09 851.92,176.6 846.88,174.09 843.85,172.57 841.33,173.58 835.79,170.05 832.77,167.03 831.76,163 835.79,162.98 839.82,160.47 841.84,158.45 837.81,154.42 833.78,151.9 828.74,152.4 824.71,154.92 820.68,159.46" fill="#FBBE80" stroke="#fff" stroke-opacity=".75" stroke-width=".7"/>
<polygon points="860.8,154.8 863.8,152.6 867.6,154.8 869.3,158.6 867.8,163.1 863.8,165.1 861.4,162.3 860.3,158.6" fill="#FCFEFC"/>
<polygon points="918,163 919,156 925,154 935,152 936,153.4 927,155 921,157 919.4,163.4" fill="#FCFEFC"/>
<polygon points="910,172.6 921,170.6 935,170 943,172.6 935,171.4 921,172" fill="#FCFEFC"/>
<polygon points="849.9,163 854.94,160.16 860.99,159.46 868,163 881,166 891,173 901,179 905,178 907,182 901,185 898,191 903,195 895,194 889,189 879,183 876,181 872.07,176.1 867.03,173.08 861.99,173.58 857.96,176.6 853.93,177.11 853.43,175.09 851.92,169.05" fill="#FC8D62" stroke="#fff" stroke-opacity=".75" stroke-width=".7"/>
<polygon points="905,178 910,172 921,170 935,169.4 944,172 943,175 935,179 923,184 917,186 913,182 907,182" fill="#FBBE80" stroke="#fff" stroke-opacity=".75" stroke-width=".7"/>
<polygon points="901,185 907,182 913,182 917,186 923,185 928,192 921,193 915,192 909,195 903,196 898,191" fill="#FC8D62" stroke="#fff" stroke-opacity=".75" stroke-width=".7"/>
<polygon points="846.88,174.09 851.92,176.6 853.93,177.11 857.96,176.6 861.99,173.58 867.03,173.08 872.07,176.1 876,181 879,183 889,189 895,194 887,201 881,205 876,200 872.07,196.26 867.03,193.74 861.99,191.72 857.96,191.72 853.93,193.23 850.4,196.26 849.9,194.24 848.89,190.21 845.87,187.19 843.85,184.16 844.86,181.64 847.88,180.13 849.9,178.12" fill="#FB6A50" stroke="#fff" stroke-opacity=".75" stroke-width=".7"/>
<polygon points="812.61,195.25 810.6,190.21 808.58,187.69 809.59,186.18 813.62,186.68 816.64,188.19 820.68,186.18 823.7,187.19 827.73,190.21 829.24,192.23 832.77,195.25 837.81,198.27 842.85,200.29 847.88,197.77 850.4,196.26 853.93,193.23 857.96,191.72 861.99,191.72 867.03,193.74 872.07,196.26 876,200 881,205 879,207 878,211 880,216 883,223 885,230.6 886,231 890,239 888,245 888,250 880,250.6 870,248 866,246 862,244 854,243 848,239 842,233 838,229 834,228 830,225 829.74,221.45 826.72,218.93 823.7,215.4 820.68,212.38 818.66,208.35 819.16,203.31 816.64,200.29 813.62,197.26" fill="#FB6A50" stroke="#fff" stroke-opacity=".75" stroke-width=".7"/>
<polygon points="879,207 887,202 895,195 903,196 909,195 915,192 921,193 928,194 922,197 919,201 920,209 915,215 913,221 905,225 901,229 885,230.6 883,223 880,216 878,211" fill="#A5A2A5" stroke="#fff" stroke-opacity=".75" stroke-width=".7"/>
<polygon points="885,230.6 901,229 905,225 913,221 915,215 920,209 919,201 922,197 928,194 935,197 943,203 938,205 931,208 930,212 937,218 935,225 932,225 928,231 924,236 919,238 920,243 925,246 927,251 922,255 917,256 918,259 914,258 909,252 904,250 896,251 888,250 888,245 890,239 886,231" fill="#FC8D62" stroke="#fff" stroke-opacity=".75" stroke-width=".7"/>
<polygon points="943,203 951,205 953,213 952,220 959,226 960,228 960,233 966,236 976,239 986,243 994,245 993.2,238.2 999,238.6 1000,242.6 1007,242 1012,237 1018,233 1026,234 1030,238 1026,243 1022,249 1020,255 1018,261 1015,267 1012,264 1010,259 1014,255 1008,252 1002,248 997,247 995,251 998,258 1000,264 994,267 992,273 984,280 976,287 970,294 967,301 968,309 967,319 963,324 959,327 954,324 951,315 947,305 943,295 938,283 935,272 934,267 931,270 925,270 920,265 922,261 918,259 917,256 922,255 927,251 925,246 920,243 919,238 924,236 928,231 932,225 935,225 937,218 930,212 931,208 938,205" fill="#FC8D62" stroke="#fff" stroke-opacity=".75" stroke-width=".7"/>
<polygon points="960,228 966,230 976,233 986,235 993,238 994,245 986,243 976,239 966,236 960,233" fill="#E80000" stroke="#fff" stroke-opacity=".75" stroke-width=".7"/>
<polygon points="998.1,239.11 1000.12,237.9 1005.16,238.1 1007.17,240.12 1006.16,242.64 1001.12,243.14 998.6,241.63" fill="#A5A2A5" stroke="#fff" stroke-opacity=".75" stroke-width=".7"/>
<polygon points="995.08,246.67 999.11,246.16 1001.63,248.68 1005.16,251.2 1010.7,250.7 1012.21,252.71 1011.2,255.23 1009.19,256.24 1011.71,259.77 1014.23,263.29 1015.23,266.82 1013.22,266.32 1010.7,263.29 1008.18,261.78 1003.14,263.8 1001.12,259.26 999.11,255.23 996.59,253.72 997.6,250.7" fill="#FBBE80" stroke="#fff" stroke-opacity=".75" stroke-width=".7"/>
<polygon points="970,322 973,325 976,330 977,335 973,337 969.6,334 969,327" fill="#E80000"/>
<polygon points="959,143 967,147 975,153 983,161 993,162 1001,167 1007,173 1019,172 1029,174 1037,176.6 1043,175 1053,173 1061,170 1059,163 1065,160 1073,157 1083,153 1079,150 1071,148 1065,145 1067,141 1072,138 1070,131 1071,125 1085,125 1095,133 1103,139 1113,143 1123,147 1131,150 1136,147 1139,152 1135,157 1132,162 1135,168 1134,172 1125,178 1119,183 1113,187 1110,190 1106,184 1103,179.4 1095,188 1105,196 1113,194 1111,200 1108,205 1113,211 1119,219 1123,227 1125,237 1123,245 1122,248 1116,256 1112,260 1106,263 1098,265 1090,268 1089,272 1087,270 1084,267 1080,267 1075,263 1068,260 1062,261 1056,263 1053,267 1048,268 1045,264 1041,257 1036,252 1035,246 1037,247 1036,241 1032,237.4 1027,234 1019,232.6 1011,236 1008,242 1007,238.6 998,238.6 993.4,238.4 993,238 986,235 976,233 966,230 960,228 959,226 952,220 953,213 951,205 943,203 935,197 928,194 928,192 923,185 924,184 935,179 943,175 945,171 941,165 943,160 949,155 957,149" fill="#E80000" stroke="#fff" stroke-opacity=".75" stroke-width=".7"/>
<polygon points="1083,277 1087,275 1091,275.6 1089,280 1085,281.6" fill="#E80000"/>
<circle cx="1109.46" cy="262.29" r="3.5" fill="#C00000"/>
<polyline points="1105.63,262.49 1106.23,259.77 1108.45,258.26 1110.97,258.46 1112.78,260.07" fill="none" stroke="#E000C0" stroke-width="0.8"/>
<polygon points="1127,255 1130,251 1132.4,254 1131.6,260 1129,263 1126.4,259" fill="#A5A2A5"/>
<polygon points="961,143 969,138 979,135 993,136 997,131 1007,133 1021,137 1035,140 1047,141 1057,139 1065,140 1065,145 1071,148 1079,150 1083,153 1073,157 1065,160 1059,163 1061,170 1053,173 1043,175 1037,176.6 1029,174 1019,172 1007,173 1001,167 993,162 983,161 975,153 967,147" fill="#FBBE80" stroke="#fff" stroke-opacity=".75" stroke-width=".7"/>
<polygon points="1119,183 1125,178 1134,172 1137,173 1135,179 1133,184 1139,189 1133,193 1127,191 1125,186" fill="#A5A2A5" stroke="#fff" stroke-opacity=".75" stroke-width=".7"/>
<polygon points="1131,194 1139,191 1140,194 1144,196 1147,202 1145,206 1140,207.4 1135,204 1132,198" fill="#FBBE80" stroke="#fff" stroke-opacity=".75" stroke-width=".7"/>
<polygon points="1169.23,160.04 1172.25,162.56 1176.28,165.08 1182.33,166.09 1187.36,165.58 1190.39,164.57 1188.37,167.6 1185.85,170.12 1183.33,173.64 1180.31,174.65 1177.29,173.14 1174.26,173.64 1172.25,176.16 1170.23,173.14 1169.23,170.12 1171.24,167.09" fill="#FC8D62"/>
<polyline points="1188.88,166.89 1194.42,162.56 1199.46,159.03 1203.49,156.01" fill="none" stroke="#FB6A50" stroke-width="0.9"/>
<polygon points="1176.78,176.67 1180.31,176.16 1182.83,179.19 1185.35,183.72 1187.36,188.26 1187.87,193.29 1189.38,198.33 1190.39,203.37 1189.88,207.91 1187.36,211.43 1184.85,212.95 1184.34,209.42 1182.33,206.9 1179.3,207.91 1176.28,209.92 1173.26,213.45 1171.24,215.47 1168.22,217.98 1170,214 1164,215 1161,219 1159,223 1154,221 1151,216 1154,211 1154.11,208.41 1160.16,203.37 1165.19,202.36 1170.23,201.36 1173.26,196.32 1174.77,192.29 1178.29,188.26 1176.78,184.23 1175.27,181.2" fill="#FC8D62"/>
<polygon points="1158.14,211.94 1163.18,209.92 1170.23,209.42 1173.26,211.43 1170.23,212.64 1165.19,212.24 1160.16,214.26" fill="#FCFEFC"/>
<polygon points="1175.78,194.3 1177.49,190.47 1179.5,191.48 1178.6,195.31 1176.48,196.52" fill="#FCFEFC"/>
<rect x="1159.4" y="226.4" width="1.3" height="1.3" fill="#FC8D62"/>
<rect x="1155.4" y="232.4" width="1.3" height="1.3" fill="#FC8D62"/>
<rect x="1151.4" y="240.4" width="1.3" height="1.3" fill="#FC8D62"/>
<rect x="1147.4" y="243.4" width="1.3" height="1.3" fill="#FC8D62"/>
<rect x="1189.4" y="217.4" width="1.3" height="1.3" fill="#FC8D62"/>
<rect x="1197.4" y="225.4" width="1.3" height="1.3" fill="#FC8D62"/>
<rect x="1199.0" y="234.4" width="1.3" height="1.3" fill="#FC8D62"/>
<rect x="1147.8" y="206.8" width="1.3" height="1.3" fill="#FC8D62"/>
<rect x="1147.8" y="207.1" width="1.6" height="1.6" fill="#FC8D62"/>
<rect x="1189.1" y="215.5" width="1.6" height="1.6" fill="#FC8D62"/>
<rect x="1147.3" y="241.7" width="1.4" height="1.4" fill="#FC8D62"/>
<rect x="1151.7" y="240.9" width="1.4" height="1.4" fill="#FC8D62"/>
<polygon points="1018,261 1020,255 1022,249 1026,243 1030,238 1035,240 1037,247 1038,255 1043,260 1047,268 1045,273 1040,275 1038,281 1040,287 1043,297 1047,305 1048,313 1046,317 1044,309 1040,299 1037,289 1032,293 1028,287 1026,279 1020,273 1015,268" fill="#A5A2A5" stroke="#fff" stroke-opacity=".75" stroke-width=".7"/>
<polygon points="1048,268 1053,267 1056,263 1059,268 1063,274 1068,280 1074,287 1079,294 1080,299 1074,300 1071,293 1066,285 1061,283 1055,284 1052,277" fill="#A5A2A5" stroke="#fff" stroke-opacity=".75" stroke-width=".7"/>
<polygon points="1056,263 1062,261 1068,260 1075,263 1078,267 1074,271 1071,275 1075,281 1081,288 1086,296 1089,304 1089,312 1084,318 1078,323 1073,325 1071,320 1078,315 1082,308 1080,299 1079,294 1074,287 1068,280 1063,274 1059,268" fill="#FC8D62" stroke="#fff" stroke-opacity=".75" stroke-width=".7"/>
<polygon points="1039,280 1040,275 1044,272 1048,268 1052,277 1055,284 1061,283 1066,285 1071,293 1074,300 1068,300 1062,303 1060,307 1053,305 1050,308 1049,318 1051,326 1055,333 1060,337 1057,337 1050,331 1045,325 1044,319 1047,314 1047,306 1044,298 1041,288" fill="#FB6A50" stroke="#fff" stroke-opacity=".75" stroke-width=".7"/>
<polygon points="1061,304 1068,300 1074,300 1080,299 1082,308 1078,315 1070,318 1065,314 1062,309" fill="#FB6A50" stroke="#fff" stroke-opacity=".75" stroke-width=".7"/>
<polygon points="1054,336 1060,338 1065,344 1067,352 1069,357 1065,356 1060,350 1056,343" fill="#E80000"/>
<circle cx="1071.4" cy="360.4" r="3.2" fill="#E80000"/>
<polygon points="1033,340 1042,340 1050,348 1060,357 1068,366 1075,375 1079,381 1078,391 1073,390 1067,384 1060,376 1053,368 1047,359 1040,350" fill="#FC8D62"/>
<rect x="1037.3" y="350.3" width="1.4" height="1.4" fill="#FC8D62"/>
<rect x="1041.3" y="355.3" width="1.4" height="1.4" fill="#FC8D62"/>
<rect x="1048.3" y="368.3" width="1.4" height="1.4" fill="#FC8D62"/>
<rect x="1052.3" y="374.3" width="1.4" height="1.4" fill="#FC8D62"/>
<rect x="1078.3" y="377.3" width="1.4" height="1.4" fill="#FC8D62"/>
<rect x="1084.3" y="377.7" width="1.4" height="1.4" fill="#FC8D62"/>
<polygon points="1091,360 1096,359 1100,361 1108,357 1116,351 1120,346 1124,345 1129,347 1129,354 1132,360 1128,362 1126,370 1122,374 1121,381 1116,380 1111,382 1106,379 1099,378 1095,372 1092,366" fill="#FC8D62"/>
<polygon points="1093,357.6 1100,354 1108,349 1114,344 1120,340 1118,340 1124,335 1130,340 1129,345 1129,345 1124,345 1120,346 1116,351 1108,357 1100,361 1096,359" fill="#E80000"/>
<polygon points="1112.4,343 1116,341 1117.6,344 1114.4,345.6" fill="#A5A2A5"/>
<polygon points="1135,363 1140,359 1148,360 1156,358 1159,359 1155,363 1148,364 1143,365 1142,369 1150,370 1149,373 1144,374 1146,380 1148,387 1145,388 1142,382 1140,378 1138,383 1139,389 1135,389 1134,380 1135,372 1136,366" fill="#FC8D62"/>
<polygon points="1168,355 1171,352 1175,352 1174,358 1172,363 1173,367 1169,366 1168,360" fill="#FC8D62"/>
<polygon points="1181,364 1184,363.6 1184.4,366 1181.6,366" fill="#FC8D62"/>
<polygon points="1153,371 1164,371 1163.6,373 1153.6,373" fill="#FC8D62"/>
<polygon points="1162,379 1166,378.4 1166.4,381.6 1162.4,382" fill="#FC8D62"/>
<polygon points="1170,379 1180,378 1181,381 1171,381.6" fill="#FC8D62"/>
<polygon points="1194,388 1197,389 1198,393 1195,394" fill="#FC8D62"/>
<rect x="1158.3" y="347.7" width="1.4" height="1.4" fill="#FC8D62"/>
<rect x="1163.3" y="345.7" width="1.4" height="1.4" fill="#FC8D62"/>
<rect x="1170.3" y="368.9" width="1.4" height="1.4" fill="#FC8D62"/>
<rect x="1178.9" y="372.3" width="1.4" height="1.4" fill="#FC8D62"/>
<rect x="1191.9" y="388.7" width="1.4" height="1.4" fill="#FC8D62"/>
<rect x="1186.5" y="398.5" width="1.4" height="1.4" fill="#FC8D62"/>
<rect x="1173.3" y="402.3" width="1.4" height="1.4" fill="#FC8D62"/>
<rect x="1178.3" y="400.3" width="1.4" height="1.4" fill="#FC8D62"/>
<rect x="1140.7" y="411.5" width="1.4" height="1.4" fill="#FC8D62"/>
<polygon points="1182,368 1190,367 1196,370 1198,375 1204,373 1212,372 1220,374 1224,377 1224,406 1217,403 1210,400 1215,397 1218,392 1212,387 1204,384 1196,383 1192,379 1188,375 1183,372" fill="#FC8D62"/>
<polygon points="1076,393 1086,393 1100,395 1110,399 1120,402 1128,403.6 1128,406 1118,405.6 1108,403 1096,400 1084,398 1077,396" fill="#FC8D62"/>
<polygon points="1121,402.4 1132,402.4 1140,402 1148,400 1153,401 1148,404 1140,405 1132,405.6 1124,405.6" fill="#FC8D62"/>
<polygon points="1152,404 1164,402.4 1169,403 1164,405 1156,406" fill="#FC8D62"/>
<polygon points="1146,413 1151,409 1158,405 1160,406 1154,411 1148,414.4" fill="#FC8D62"/>
<polygon points="1132,408 1137,409 1136,411 1132,410" fill="#FC8D62"/>
<polygon points="1224,377 1232,380 1240,385 1246,390 1253,394 1250,397 1253,403 1258,408 1264,411 1265,415 1258,413 1252,410 1247,404 1242,400 1236,401 1232,405 1228,407 1224,406" fill="#C00000"/>
<polygon points="1256,392 1262,391 1268,387 1271,382 1268,378 1263,377 1270,379 1273.6,384 1270,390 1264,394 1259,394.4" fill="#C00000"/>
<polygon points="1277,389 1278.4,391.6 1281.4,396 1280,398 1277.6,394" fill="#C00000"/>
<rect x="1245.7" y="373.9" width="1.4" height="1.4" fill="#C00000"/>
<rect x="1269.3" y="407.7" width="1.4" height="1.4" fill="#C00000"/>
<rect x="1272.3" y="415.7" width="1.4" height="1.4" fill="#C00000"/>
<polyline points="1284,396 1289,400" fill="none" stroke="#A5A2A5" stroke-width="0.9"/>
<polyline points="1290,402 1294,406" fill="none" stroke="#A5A2A5" stroke-width="0.9"/>
<polyline points="1297,408 1300,411" fill="none" stroke="#A5A2A5" stroke-width="0.9"/>
<polyline points="1299,410 1304,415" fill="none" stroke="#A5A2A5" stroke-width="0.9"/>
<polyline points="1288,402 1290,405" fill="none" stroke="#A5A2A5" stroke-width="0.9"/>
<polygon points="1132.95,280.58 1140.5,280.08 1142.52,285.12 1141.51,290.16 1140,294.19 1143.53,296.2 1144.54,299.23 1148.57,300.23 1152.6,301.24 1152.09,304.26 1148.57,303.76 1145.54,302.25 1141.51,302.25 1137.48,303.26 1135.47,300.23 1132.44,297.21 1130.43,293.18 1130.93,289.15 1132.44,285.12" fill="#FB6A50"/>
<polygon points="1135.97,304.77 1139.5,303.76 1145.54,302.75 1151.59,304.77 1155.62,307.29 1158.14,312.33 1157.13,317.36 1154.61,320.39 1151.59,322.4 1148.57,324.92 1145.54,323.41 1143.53,319.38 1141.51,315.35 1141.01,311.32 1137.98,308.8" fill="#FB6A50"/>
<polyline points="1141.01,305.78 1144.54,307.79 1147.56,310.31" fill="none" stroke="#FCFEFC" stroke-width="0.7"/>
<polyline points="1145.54,312.33 1148.57,311.82 1152.09,312.83" fill="none" stroke="#FCFEFC" stroke-width="0.7"/>
<polyline points="1150.08,314.34 1149.07,317.36 1148.57,320.89" fill="none" stroke="#FCFEFC" stroke-width="0.7"/>
<polyline points="1144.54,304.77 1145.54,307.79" fill="none" stroke="#FCFEFC" stroke-width="0.7"/>
<polyline points="1152.6,308.29 1154.61,312.33" fill="none" stroke="#FCFEFC" stroke-width="0.7"/>
<polyline points="1151.59,322.4 1154.61,324.42" fill="none" stroke="#FCFEFC" stroke-width="0.7"/>
<polygon points="1145.54,328.45 1149.57,325.93 1154.61,324.92 1157.64,320.39 1160.66,324.42 1162.68,328.45 1163.68,332.98 1162,338 1159,341 1154,336 1149,335 1146,333" fill="#FB6A50"/>
<polygon points="1121.36,328.45 1127.4,321.4 1133.45,313.33 1135.97,309.3 1136.98,310.31 1135.47,314.34 1129.92,322.4 1124.38,329.96 1122.36,330.47" fill="#FB6A50"/>
<rect x="1140.3" y="337.3" width="1.4" height="1.4" fill="#FB6A50"/>
<rect x="1158.3" y="348.3" width="1.4" height="1.4" fill="#FB6A50"/>
<rect x="1163.3" y="345.3" width="1.4" height="1.4" fill="#FB6A50"/>
<rect x="1233.4" y="291.0" width="1.1" height="1.1" fill="#A5A2A5"/>
<rect x="1230.8" y="300.0" width="1.1" height="1.1" fill="#A5A2A5"/>
<rect x="1194.4" y="329.4" width="1.1" height="1.1" fill="#A5A2A5"/>
<rect x="1291.4" y="330.8" width="1.1" height="1.1" fill="#A5A2A5"/>
<polygon points="1025,305 1027,305 1027,319 1025,319" fill="#FC8D62"/>
<rect x="1028.4" y="327.4" width="1.3" height="1.3" fill="#FC8D62"/>
<rect x="1030.4" y="331.4" width="1.3" height="1.3" fill="#FC8D62"/>
<rect x="1031.8" y="334.0" width="1.3" height="1.3" fill="#FC8D62"/>
<rect x="935.5" y="314.1" width="1.0" height="1.0" fill="#A5A2A5"/>
<rect x="939.5" y="312.9" width="1.0" height="1.0" fill="#A5A2A5"/>
<rect x="940.5" y="318.1" width="1.0" height="1.0" fill="#A5A2A5"/>
<rect x="937.5" y="316.5" width="1.0" height="1.0" fill="#A5A2A5"/>
<rect x="931.5" y="331.5" width="1.0" height="1.0" fill="#A5A2A5"/>
<rect x="929.5" y="340.5" width="1.0" height="1.0" fill="#A5A2A5"/>
<rect x="932.5" y="346.5" width="1.0" height="1.0" fill="#A5A2A5"/>
<rect x="930.5" y="336.5" width="1.0" height="1.0" fill="#A5A2A5"/>
<rect x="856.9" y="308.5" width="1.0" height="1.0" fill="#A5A2A5"/>
<polygon points="778.8,234.81 780.31,229.77 782.33,232.79 786.36,229.26 790.39,226.24 787.36,223.22 788.37,221.71 794.92,219.19 796.43,219.19 800.47,219.69 804.5,221.71 808.53,225.23 813.57,229.77 819.61,232.29 824.65,232.29 827.68,232.79 831.2,233.8 834.73,237.33 837.25,241.36 839.26,246.4 840.78,249.42 844.81,252.95 844.3,250.93 844.81,247.4 846.82,248.41 847.83,251.43 846.82,255.47 849.85,256.47 853.88,255.47 857.91,253.45 860.93,250.43 864.46,246.4 865.97,245.39 866.47,249.42 865.97,252.44 870,254.46 875.04,257.98 881,264 876,271 870,280 864,285 857,287 853,280 836,285 830,288 824,287 814,287 814,293 808,283 802,275 796,263 788,251 782.33,242.36" fill="#A5A2A5"/>
<polyline points="850,255 864,262 866,268 862,275 853,280" fill="none" stroke="#FCFEFC" stroke-width="0.6"/>
<polyline points="866,268 870,266 869,260 867,255" fill="none" stroke="#FCFEFC" stroke-width="0.6"/>
<polyline points="778.8,234.81 780.31,229.77 782.33,232.79 786.36,229.26 790.39,226.24 787.36,223.22 788.37,221.71 794.92,219.19 796.43,219.19 800.47,219.69 804.5,221.71 808.53,225.23 813.57,229.77 819.61,232.29 824.65,232.29 827.68,232.79 831.2,233.8" fill="none" stroke="#FCFEFC" stroke-width="0.6"/>
<polygon points="780.31,200.04 783.33,198.02 792.4,197.52 800.47,196.51 803.49,196.01 801.47,201.05 800.47,206.09 799.46,209.11 794.92,211.63 792.4,214.15 783.33,216.67 780.31,218.68 778.8,214.15 781.82,214.15 783.84,210.12 782.33,207.6 779.81,208.1 780.11,204.07" fill="#A5A2A5" stroke="#fff" stroke-opacity=".75" stroke-width=".7"/>
<polygon points="803.49,196.01 810.54,195 812.56,195 815.58,199.03 819.61,203.06 818.61,208.1 821.63,213.14 825.66,216.67 829.19,219.69 830.7,224.23 833.22,227.25 830.7,228.76 826.16,228.76 824.15,230.78 824.65,232.29 819.61,232.29 813.57,229.77 808.53,225.23 804.5,221.71 800.47,219.69 796.43,219.19 794.92,219.19 795.43,217.67 792.4,214.15 794.92,211.63 799.46,209.11 800.47,206.09 801.47,201.05" fill="#A5A2A5" stroke="#fff" stroke-opacity=".75" stroke-width=".7"/>
<polygon points="824.15,230.78 826.16,228.76 830.7,228.76 832.21,230.27 831.2,233.8 827.68,232.79 825.16,232.29" fill="#A5A2A5" stroke="#fff" stroke-opacity=".75" stroke-width=".7"/>
<polygon points="779.81,208.1 782.33,207.6 783.84,210.12 781.82,214.15 778.8,214.15 779.3,211.12" fill="#A5A2A5" stroke="#fff" stroke-opacity=".75" stroke-width=".7"/>
<polygon points="776.78,214.65 778.8,214.15 780.31,218.68 779.81,225.23 778.8,234.3 777.29,228.26 775.27,222.01" fill="#FC8D62" stroke="#fff" stroke-opacity=".75" stroke-width=".7"/>
<polygon points="780.31,218.68 783.33,216.67 792.4,214.15 795.43,217.67 794.92,219.19 788.37,221.71 787.36,223.22 790.39,226.24 786.36,229.26 782.33,232.79 780.31,229.77 778.8,234.3 779.81,225.23" fill="#FC8D62" stroke="#fff" stroke-opacity=".75" stroke-width=".7"/>
<polyline points="778.8,216.67 777.79,220.19 778.8,224.23 779.81,221.2 779.5,217.67" fill="none" stroke="#FCFEFC" stroke-width="0.5"/>
<rect x="841.8" y="245.4" width="1.0" height="1.0" fill="#A5A2A5"/>
<polygon points="814,287 824,287 830,288 836,285 853,280 857,287 854,291 846,295 836,300 828,304 819,307 816,301 814,294" fill="#FC8D62" stroke="#fff" stroke-opacity=".75" stroke-width=".7"/>
<polygon points="618.22,201.09 622.25,204.32 628.29,206.33 632.33,206.33 632.83,210.36 633.33,215.4 630.31,218.43 627.29,218.23 624.26,220.44 622.25,224.47 621.74,225.98 603.6,239 586,239 587,238 600.08,220.44 603.1,215.4 609.15,210.36 613.18,206.33 616.2,202.3" fill="#FC8D62" stroke="#fff" stroke-opacity=".75" stroke-width=".7"/>
<polygon points="570,267 574,259 580,249 586,239 603.6,239 603.6,246 590,246 590,258 585,260 584.4,267" fill="#A5A2A5" stroke="#fff" stroke-opacity=".75" stroke-width=".7"/>
<polygon points="570,267 584.4,267 585,260 590,258 590,246 603.6,246 603.6,242 613,249 613,294 590,295 586,297 580,290 574,289 571,285 572,277 569,270" fill="#FC8D62" stroke="#fff" stroke-opacity=".75" stroke-width=".7"/>
<polygon points="632.33,206.33 638.37,203.31 644.42,200.29 650.47,198.27 660.54,197.77 668.61,197.26 672.64,196.26 671.12,200.29 670.62,205.33 669.11,210.36 669.61,213.39 673.64,219.43 675.66,223.47 676.16,225.98 678,237 677,245 680,251 687,258 674,268 660,277.4 650,277.4 634,266 613,251 603.6,242 603.6,239 621.74,225.98 622.25,224.47 624.26,220.44 627.29,218.23 630.31,218.43 633.33,215.4 632.83,210.36" fill="#FC8D62" stroke="#fff" stroke-opacity=".75" stroke-width=".7"/>
<polygon points="672.64,196.26 677.68,195.25 684.23,196.76 681.2,201.29 683.72,203.31 682.71,206.33 680.19,209.36 683.72,211.37 685.74,214.4 682.71,217.42 680.7,220.44 679.19,223.47 678.68,225.98 676.16,225.98 675.66,223.47 673.64,219.43 669.61,213.39 669.11,210.36 670.62,205.33 671.12,200.29" fill="#FC8D62" stroke="#fff" stroke-opacity=".75" stroke-width=".7"/>
<polygon points="678.68,225.98 679.19,223.47 680.7,220.44 682.71,217.42 685.74,215.4 690.78,215.4 696.82,217.42 699.85,220.44 701.86,223.47 705.89,224.47 708.92,225.98 712.95,227.5 716.98,227.5 717.99,225.98 720,220.44 722.02,217.42 726.05,216.41 731.09,217.42 733,217.92 733,218.93 737.53,221.45 738.04,225.98 738,274 734,275 720,268 708,261 699,261 687,258 680,251 677,245 678,237 676.16,225.98" fill="#A5A2A5" stroke="#fff" stroke-opacity=".75" stroke-width=".7"/>
<polygon points="738.04,221.95 743.08,222.46 753.16,223.47 763.23,223.47 767.71,223.92 775.27,222.01 777.29,228.26 778.8,234.3 777.79,237.12 776.28,238.33 778.29,245.39 782.33,251.43 783,253 784,261 776,265 738,264.6 738,225 738.04,225.98" fill="#FC8D62" stroke="#fff" stroke-opacity=".75" stroke-width=".7"/>
<polyline points="768.02,224.43 769.23,230.27 772.25,236.32 774.97,238.64" fill="none" stroke="#FCFEFC" stroke-width="0.9"/>
<polygon points="613,251 634,266 650,277.4 655,277.4 654,293 644,295 637,297 634,300 626,301 620,304 616,311 613,315 608,314 604,316 601,309 590,308 587,299 590,295 613,294" fill="#FB6A50" stroke="#fff" stroke-opacity=".75" stroke-width=".7"/>
<polygon points="655,277.4 660,277.4 674,268 687,258 699,261 702,271 701,283 698,291 694,298 692,303 686,304 680,305 674,304 666,302 659,300.6 654,304 649,309 644,305 639,301 638,298 644,295 654,293" fill="#C00000" stroke="#fff" stroke-opacity=".75" stroke-width=".7"/>
<polygon points="699,261 708,261 720,268 734,275 735.6,275 736,291 733,293 729,301 729,307 732,315 724,319 716,324 710,329 701,330 699,323 696,319 699,313 697,309 692,303 694,298 698,291 701,283 702,271" fill="#A5A2A5" stroke="#fff" stroke-opacity=".75" stroke-width=".7"/>
<polygon points="738,264.6 776,265 784,261 788,265 793,277 795,284 789,287 788,297 784,299 779,313 776,323 773,328 780,337 786,343 776,345 768,347 760,344 752,343 750,339 742,329 737,325 734,317 729,307 729,301 733,293 736,291 735.6,275 738,274" fill="#A5A2A5" stroke="#fff" stroke-opacity=".75" stroke-width=".7"/>
<polygon points="789,287 795,284 800,287 808,297 812,309 810,308 804,301 796,298 788,297" fill="#A5A2A5" stroke="#fff" stroke-opacity=".75" stroke-width=".7"/>
<polygon points="788,297 796,298 804,301 810,308 810,311 812,315 818,321 835,325 836,329 828,339 820,345 810,348 798,348 784,344 800,345 794,343 786,343 780,337 773,328 776,323 779,313 784,299" fill="#FC8D62" stroke="#fff" stroke-opacity=".75" stroke-width=".7"/>
<polygon points="810,308 812,309 816,313 812,315 810,311" fill="#A5A2A5" stroke="#fff" stroke-opacity=".75" stroke-width=".7"/>
<polygon points="816,313 819,317 835,315 849,311 848,319 842,333 836,345 832,350 836,348 828,356 818,366 810,371 808,366 808,356 810,346 818,344 820,345 828,339 836,329 835,325 818,321 812,315" fill="#A5A2A5" stroke="#fff" stroke-opacity=".75" stroke-width=".7"/>
<polygon points="568,294 574,289 580,290 586,297 590,306 587,308 580,307.4 570,306 568,302" fill="#FB6A50" stroke="#fff" stroke-opacity=".75" stroke-width=".7"/>
<polygon points="569,302 578,301.4 578,303.4 569,304" fill="#C00000"/>
<polyline points="569,301.6 578.4,301" fill="none" stroke="#FCFEFC" stroke-width="0.5"/>
<polyline points="569,304.4 578.4,303.8" fill="none" stroke="#FCFEFC" stroke-width="0.5"/>
<polygon points="569.6,306.4 580,307.6 579,311.4 575,313 571,310" fill="#E80000" stroke="#fff" stroke-opacity=".75" stroke-width=".7"/>
<polygon points="579,311 580,307.4 590,308 601,309 604,316 603,325 600,331 595,327 592,321 586,318 582,319 577,313" fill="#FC8D62" stroke="#fff" stroke-opacity=".75" stroke-width=".7"/>
<polygon points="583,323 586,319 591,320 593,325 590,330 587,332 583.6,328" fill="#640000" stroke="#fff" stroke-opacity=".75" stroke-width=".7"/>
<polygon points="590,331 593,326 598,329 603,333 605,342 600,340 594,335" fill="#A5A2A5" stroke="#fff" stroke-opacity=".75" stroke-width=".7"/>
<polygon points="604,316 608,315 613,316 620,319 624.4,321 624,331 625,340 616,341 608,343 605,342 603,333 602,327 603,323" fill="#E80000" stroke="#fff" stroke-opacity=".75" stroke-width=".7"/>
<polygon points="613,315 616,311 620,304 626,301 634,300 637,297 639,301 644,305 649,309 646,313 638,314 625,314 624.4,321 620,319" fill="#FC8D62" stroke="#fff" stroke-opacity=".75" stroke-width=".7"/>
<polygon points="625,314 637,314 638,321 640,331 642,337 634,340 626,341 625,340 624,331 624.4,321" fill="#FC8D62" stroke="#fff" stroke-opacity=".75" stroke-width=".7"/>
<polygon points="637.4,314.6 641,314 643,325 644,335 642,336.6 640,331 638,321" fill="#A5A2A5" stroke="#fff" stroke-opacity=".75" stroke-width=".7"/>
<polygon points="641,314 646,313 649,309 652,313 650,319 649,327 649,335 644.4,335.4 643,325" fill="#FC8D62" stroke="#fff" stroke-opacity=".75" stroke-width=".7"/>
<polygon points="652,313 654,304 659,300.6 666,302 674,304 680,305 686,304 692,303 697,309 694,315 691,321 688,327 686,332 680,334 675,336 672,341 668,344 662,343 658,337 650,335 649,327 650,319" fill="#FB6A50" stroke="#fff" stroke-opacity=".75" stroke-width=".7"/>
<polygon points="697,309 699,313 696,319 699,323 701,330 698,337 700,343 702,350 704,350 704,354 678,354.4 677,348 674,340 673,343 675,337 680,334 686,332 688,327 691,321 694,315" fill="#E80000" stroke="#fff" stroke-opacity=".75" stroke-width=".7"/>
<polygon points="701,330 710,329 716,324 724,319 732,315 734,317 737,325 742,329 750,339 747,341 744,342 736,344 728,345 720,342 715,344 715,349 704,350 702,350 700,343 698,337" fill="#640000" stroke="#fff" stroke-opacity=".75" stroke-width=".7"/>
<polygon points="678,355 684,355 684,359 678,359" fill="#A5A2A5" stroke="#fff" stroke-opacity=".75" stroke-width=".7"/>
<polygon points="676,360 684,359 684,355 694,355 696,360 698,366 697,371 692,373 688,375 686,379 688,386 680,378 676,370" fill="#A5A2A5" stroke="#fff" stroke-opacity=".75" stroke-width=".7"/>
<polygon points="694,355 704,354 704,350 715,349 713,358 710,366 707,372 704,380 700,384 692,387 688,388 688,386 686,379 688,375 692,373 697,371 698,366 696,360" fill="#A5A2A5" stroke="#fff" stroke-opacity=".75" stroke-width=".7"/>
<polygon points="715,349 715,344 720,342 728,345 736,344 744,342 747,341 750,339 752,343 760,344 768,347 766,348 766,354 763,361 761,368 760,376 758,383 757,389 760,395 764,401 758,404 755,409 756,416 761,420 760,424 754,422 748,417 740,416 736,415 731,414 728,406 727,397 720,396 716,400 711,401 708,396 705,392 689,391.6 688,388 692,387 700,384 704,380 707,372 710,366 713,358" fill="#A5A2A5" stroke="#fff" stroke-opacity=".75" stroke-width=".7"/>
<polygon points="689,391.6 705,392 708,396 711,401 716,400 720,396 727,397 728,406 731,414 736,415 740,416 736,419 732,422 728,424 728,434 732,440 739,444 724,445 712,444 700,443.6 687,442.4 688,434 692,424 695,416 694,408 692,400" fill="#A5A2A5" stroke="#fff" stroke-opacity=".75" stroke-width=".7"/>
<polygon points="688,387 691,388 690,391 688,390" fill="#A5A2A5"/>
<polygon points="736,419 740,416 748,417 754,422 760,424 761,420 756,416 755,409 758,404 764,401 770,404 774,409 775,416 774,424 773,428 766,431 760,435 754,440 749,444 744,445 739,444 732,440 728,434 728,424 732,422" fill="#C00000" stroke="#fff" stroke-opacity=".75" stroke-width=".7"/>
<polygon points="760,383 763,378 767,373 772,373 776,373.6 780,372 788,374 794,379 800,385 799,394 800,402 804,408 804,413 796,415 788,417 780,416 779,408 774,407 770,404 764,401 760,395 759,389" fill="#FC8D62" stroke="#fff" stroke-opacity=".75" stroke-width=".7"/>
<polygon points="766,348 780,347 782,355 780,360 774,362 770,366 768,370 764,370 761,368 763,361 766,354" fill="#E80000" stroke="#fff" stroke-opacity=".75" stroke-width=".7"/>
<polygon points="780,347 784,344 798,348 810,346 808,356 808,366 810,371 805,378 800,385 794,379 788,374 780,372 779,369 779,363 780,360 782,355" fill="#FB6A50" stroke="#fff" stroke-opacity=".75" stroke-width=".7"/>
<polygon points="770,366 774,362 779,363 779,369 776,373 772,373" fill="#FCFEFC"/>
<polygon points="758,372 761,370 764.4,371 765,375 761,377 758,375.6" fill="#F4EC00"/>
<polygon points="758.4,377 763,377 764,381 760,383 758,380" fill="#FB6A50"/>
<polygon points="775,409 779,408 780,416 781,424 785,430 785,436 782,439 779,434 778,429 774,426 774,416" fill="#FC8D62" stroke="#fff" stroke-opacity=".75" stroke-width=".7"/>
<polygon points="780,416 788,417 796,415 804,413 805.6,420 805,428 802,434 796,438 790,444 784,450 780,456 781,462 783,469 780,475 772,479 770,488 768,482 767,476 766,465 770,462 773,456 774,448 772,441 766,436 766,431 773,428 774,426 778,429 779,434 782,439 785,436 785,430 781,424" fill="#E80000" stroke="#fff" stroke-opacity=".75" stroke-width=".7"/>
<polygon points="744,445 749,444 754,440 760,435.6 766,436 772,441 774,448 773,456 770,462 766,465 757,464 753,460 748,452" fill="#C00000" stroke="#fff" stroke-opacity=".75" stroke-width=".7"/>
<polygon points="687,442.4 700,443.6 712,444 724,445 740,444 738,446.4 728,447 724,448 723,456 720,466 719,478 719.6,492 714,495 704,493 700,486 699,476 696,464 691,452 688,446" fill="#640000" stroke="#fff" stroke-opacity=".75" stroke-width=".7"/>
<polygon points="724,448 728,447 738,446.4 740,444 744,445 748,452 753,460 757,464 748,471 742,476 738,481 730,478 726,484 722,486 719.6,478 720,466 723,456" fill="#640000" stroke="#fff" stroke-opacity=".75" stroke-width=".7"/>
<polygon points="704,493 714,495 719.6,492 719.6,478 722,486 726,484 730,478 738,481 742,476 748,471 757,464 766,465 767,476 768,482 770,488 766,496 760,504 752,510 744,516 738,519 728,518 720,521 714,518 712,511 709,502" fill="#640000" stroke="#fff" stroke-opacity=".75" stroke-width=".7"/>
<circle cx="751" cy="498.6" r="4.2" fill="#640000" stroke="#FFFFFF" stroke-width=".7"/>
<polygon points="762.4,483 766,481 768.4,485 766,488 763,487" fill="#C00000" stroke="#fff" stroke-opacity=".75" stroke-width=".7"/>
<polygon points="840,421 843,426 844,434 840,444 836,454 833,465 832,468 830,475 824,479 817,478 815,473 815,466 819,458 820,446 821,439 822,438 830,436 835,430 838,424" fill="#E80000"/>
<rect x="814.5" y="419.5" width="1.0" height="1.0" fill="#A5A2A5"/>
<rect x="818.5" y="422.5" width="1.0" height="1.0" fill="#A5A2A5"/>
<rect x="869.5" y="388.1" width="1.0" height="1.0" fill="#A5A2A5"/>
<rect x="870.5" y="407.5" width="1.0" height="1.0" fill="#A5A2A5"/>
<rect x="872.5" y="455.5" width="1.0" height="1.0" fill="#A5A2A5"/>
<rect x="865.5" y="459.5" width="1.0" height="1.0" fill="#A5A2A5"/>
<rect x="666.5" y="359.5" width="1.0" height="1.0" fill="#A5A2A5"/>
<rect x="669.5" y="356.5" width="1.0" height="1.0" fill="#A5A2A5"/>
<rect x="614.5" y="437.5" width="1.0" height="1.0" fill="#A5A2A5"/>
<rect x="822.5" y="427.5" width="1.0" height="1.0" fill="#A5A2A5"/>
<rect x="551.4" y="236.4" width="1.1" height="1.1" fill="#A5A2A5"/>
<rect x="555.4" y="232.4" width="1.1" height="1.1" fill="#A5A2A5"/>
<rect x="565.4" y="233.4" width="1.1" height="1.1" fill="#A5A2A5"/>
<rect x="569.4" y="236.4" width="1.1" height="1.1" fill="#A5A2A5"/>
<rect x="577.4" y="231.4" width="1.1" height="1.1" fill="#A5A2A5"/>
<rect x="573.4" y="234.4" width="1.1" height="1.1" fill="#A5A2A5"/>
<polygon points="1128,457 1136,453 1140,446 1144,441 1146,443 1150,436 1156,431 1162,428 1169,433 1172,430 1175,424 1180,419 1184,417 1192,418 1200,420 1201,422 1197,428 1196,432 1200,436 1206,440 1213,445 1218,440 1221,434 1223,426 1225,419 1227,416 1229,419 1231,426 1235,431 1237,438 1237,448 1242,455 1246,462 1250,471 1256,478 1256,487 1254,496 1250,504 1244,512 1238,516 1232,522 1226,529 1221,536 1212,537 1205,542 1200,538 1194,540 1188,537 1184,532 1185,524 1180,526 1184,519 1187,513 1181,517 1174,522 1171,517 1168,512 1162,508.4 1150,509 1140,512 1128,516 1116,518 1104,522 1097,523 1093,519 1098,513 1100,506 1098,496 1099,484 1100,472 1104,465 1114,460 1124,456.4 1134,454 1140,447" fill="#FBBE80"/>
<polygon points="1192,549 1195,546 1200,550 1208,548 1205,555 1200,559 1194,563 1191,561" fill="#FBBE80"/>
<polygon points="1319,523 1322,522 1323,528 1325,534 1331,536 1330,540 1325,542 1320,546 1314,551 1307,553 1306,550 1310,546 1310,541 1316,538 1319,532" fill="#FC8D62"/>
<polygon points="1259.8,572.02 1264.92,568.18 1277.73,561.77 1290.53,555.37 1300.78,548.97 1303.34,551.53 1294.38,559.21 1282.85,565.61 1270.04,573.3 1262.36,577.91 1259.8,576.37" fill="#FC8D62"/>
<rect x="1326.9" y="562.6" width="3.0" height="3.0" fill="#FC8D62"/>
<polygon points="1306,451 1308,453 1313,460 1318,466 1317,467 1311,462 1307,456" fill="#A5A2A5"/>
<rect x="1326.5" y="440.5" width="1.0" height="1.0" fill="#A5A2A5"/>
<rect x="1328.5" y="447.5" width="1.0" height="1.0" fill="#A5A2A5"/>
<rect x="1331.5" y="456.5" width="1.0" height="1.0" fill="#A5A2A5"/>
<rect x="1318.5" y="458.5" width="1.0" height="1.0" fill="#A5A2A5"/>
<rect x="1309.9" y="496.5" width="1.0" height="1.0" fill="#A5A2A5"/>
<rect x="536.5" y="286.5" width="1.0" height="1.0" fill="#A5A2A5"/>
<rect x="540.5" y="288.5" width="1.0" height="1.0" fill="#A5A2A5"/>
<rect x="544.5" y="290.5" width="1.0" height="1.0" fill="#A5A2A5"/>
<rect x="545.5" y="294.5" width="1.0" height="1.0" fill="#A5A2A5"/>
<rect x="539.5" y="285.5" width="1.0" height="1.0" fill="#A5A2A5"/>
<rect x="931.5" y="330.5" width="1.0" height="1.0" fill="#A5A2A5"/>
<rect x="930.5" y="335.5" width="1.0" height="1.0" fill="#A5A2A5"/>
<rect x="931.5" y="340.5" width="1.0" height="1.0" fill="#A5A2A5"/>
<rect x="930.5" y="345.5" width="1.0" height="1.0" fill="#A5A2A5"/>
<rect x="931.5" y="350.5" width="1.0" height="1.0" fill="#A5A2A5"/>
<rect x="931.5" y="356.5" width="1.0" height="1.0" fill="#A5A2A5"/>
<rect x="931.5" y="361.5" width="1.0" height="1.0" fill="#A5A2A5"/>
<rect x="1324.5" y="431.5" width="1.0" height="1.0" fill="#A5A2A5"/>
<rect x="1326.0" y="437.5" width="1.0" height="1.0" fill="#A5A2A5"/>
<rect x="1327.5" y="443.5" width="1.0" height="1.0" fill="#A5A2A5"/>
<rect x="1328.5" y="449.5" width="1.0" height="1.0" fill="#A5A2A5"/>
<rect x="1330.5" y="456.5" width="1.0" height="1.0" fill="#A5A2A5"/>
<rect x="1334.5" y="451.5" width="1.0" height="1.0" fill="#A5A2A5"/>
<polyline points="1365,445 1374,441" fill="none" stroke="#A5A2A5" stroke-width="1.0"/>
<rect x="1391.5" y="455.5" width="1.0" height="1.0" fill="#A5A2A5"/>
<rect x="1399.5" y="443.5" width="1.0" height="1.0" fill="#A5A2A5"/>
<rect x="1412.5" y="427.5" width="1.0" height="1.0" fill="#A5A2A5"/>
<rect x="1404.5" y="436.5" width="1.0" height="1.0" fill="#A5A2A5"/>
<rect x="1291.5" y="330.5" width="1.0" height="1.0" fill="#A5A2A5"/>
<rect x="1350.5" y="330.5" width="1.0" height="1.0" fill="#A5A2A5"/>
<rect x="1359.5" y="357.5" width="1.0" height="1.0" fill="#A5A2A5"/>
<rect x="1331.5" y="366.5" width="1.0" height="1.0" fill="#A5A2A5"/>
<rect x="1378.5" y="408.5" width="1.0" height="1.0" fill="#A5A2A5"/>
<rect x="1411.5" y="408.5" width="1.0" height="1.0" fill="#A5A2A5"/>
<rect x="1394.5" y="424.5" width="1.0" height="1.0" fill="#A5A2A5"/>
<rect x="1409.5" y="427.5" width="1.0" height="1.0" fill="#A5A2A5"/>
</g>
<g shape-rendering="crispEdges">
<rect x="14.5" y="441.5" width="277" height="166.5" fill="#FCFEFC" stroke="#000" stroke-width="3"/>
<rect x="29.5" y="453.5" width="32.5" height="22.5" fill="#FCFA9C" stroke="#1a1a1a" stroke-width="1"/>
<text x="68.6" y="476.4" class="lg">&lt;.25</text>
<rect x="29.5" y="483.1" width="32.5" height="22.5" fill="#FDD8A2" stroke="#1a1a1a" stroke-width="1"/>
<text x="68.6" y="505.5" class="lg">.25-.29</text>
<rect x="29.5" y="512.7" width="32.5" height="22.5" fill="#FBBE80" stroke="#1a1a1a" stroke-width="1"/>
<text x="68.6" y="534.6" class="lg">.30-.34</text>
<rect x="29.5" y="542.3" width="32.5" height="22.5" fill="#FC8D62" stroke="#1a1a1a" stroke-width="1"/>
<text x="68.6" y="563.7" class="lg">.35-.39</text>
<rect x="29.5" y="571.9" width="32.5" height="22.5" fill="#FB6A50" stroke="#1a1a1a" stroke-width="1"/>
<text x="68.6" y="592.8" class="lg">.40-.44</text>
<rect x="161.5" y="453.5" width="32.5" height="22.5" fill="#E80000" stroke="#1a1a1a" stroke-width="1"/>
<text x="198.6" y="476.4" class="lg">.45-.49</text>
<rect x="161.5" y="483.1" width="32.5" height="22.5" fill="#C00000" stroke="#1a1a1a" stroke-width="1"/>
<text x="198.6" y="505.5" class="lg">.50-.54</text>
<rect x="161.5" y="512.7" width="32.5" height="22.5" fill="#940000" stroke="#1a1a1a" stroke-width="1"/>
<text x="198.6" y="534.6" class="lg">.55-.59</text>
<rect x="161.5" y="542.3" width="32.5" height="22.5" fill="#640000" stroke="#1a1a1a" stroke-width="1"/>
<text x="198.6" y="563.7" class="lg">&gt; .60</text>
<rect x="161.5" y="571.9" width="32.5" height="22.5" fill="#A5A2A5" stroke="#1a1a1a" stroke-width="1"/>
<text x="198.6" y="592.8" class="lg">No data</text>
</g>
<text x="617.8" y="587.6" class="ti" textLength="56" lengthAdjust="spacingAndGlyphs">GINI</text>
<text x="693.6" y="587.6" class="ti" textLength="146.5" lengthAdjust="spacingAndGlyphs">Coefficient</text>
<text x="1077.3" y="603" class="src" xml:space="preserve" textLength="315" lengthAdjust="spacingAndGlyphs">Source:  CIA -- The World Factbook 2009</text>
</svg>
</body></html>
